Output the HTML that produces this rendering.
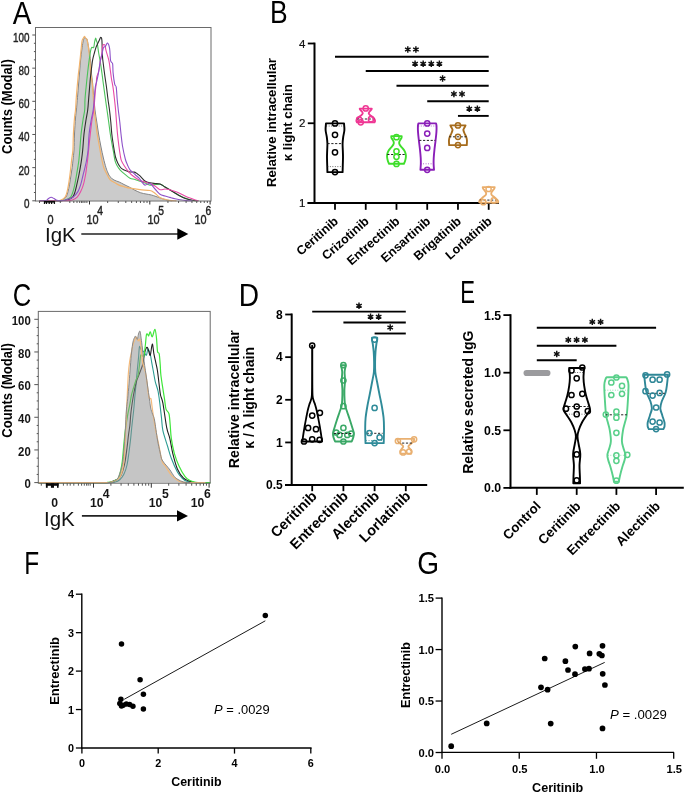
<!DOCTYPE html>
<html><head><meta charset="utf-8"><style>
html,body{margin:0;padding:0;background:#fff;width:685px;height:793px;overflow:hidden}
svg{display:block}
text{font-family:"Liberation Sans",sans-serif}
svg{will-change:transform}
</style></head><body>
<svg width="685" height="793" viewBox="0 0 685 793">
<rect width="685" height="793" fill="#fff"/>
<text x="0" y="0" font-size="31" fill="#000" transform="translate(12.80,24.00) scale(0.9,1)">A</text>
<path d="M55.00 200.80 C55.67 200.77 57.83 200.73 59.00 200.60 C60.17 200.47 60.83 200.57 62.00 200.00 C63.17 199.43 65.00 198.60 66.00 197.20 C67.00 195.80 67.42 193.68 68.00 191.60 C68.58 189.52 69.00 187.47 69.50 184.70 C70.00 181.93 70.55 177.88 71.00 175.00 C71.45 172.12 71.87 169.90 72.20 167.40 C72.53 164.90 72.70 162.90 73.00 160.00 C73.30 157.10 73.75 154.33 74.00 150.00 C74.25 145.67 74.25 139.33 74.50 134.00 C74.75 128.67 75.18 122.00 75.50 118.00 C75.82 114.00 76.07 113.43 76.40 110.00 C76.73 106.57 77.13 101.73 77.50 97.40 C77.87 93.07 78.25 88.23 78.60 84.00 C78.95 79.77 79.27 76.00 79.60 72.00 C79.93 68.00 80.23 63.67 80.60 60.00 C80.97 56.33 81.40 53.00 81.80 50.00 C82.20 47.00 82.63 43.92 83.00 42.00 C83.37 40.08 83.67 39.27 84.00 38.50 C84.33 37.73 84.67 37.35 85.00 37.40 C85.33 37.45 85.65 38.47 86.00 38.80 C86.35 39.13 86.72 38.28 87.10 39.40 C87.48 40.52 87.90 43.23 88.30 45.50 C88.70 47.77 89.12 50.42 89.50 53.00 C89.88 55.58 90.28 57.67 90.60 61.00 C90.92 64.33 91.07 69.33 91.40 73.00 C91.73 76.67 92.23 79.27 92.60 83.00 C92.97 86.73 93.20 90.90 93.60 95.40 C94.00 99.90 94.47 105.57 95.00 110.00 C95.53 114.43 96.20 118.00 96.80 122.00 C97.40 126.00 97.90 129.83 98.60 134.00 C99.30 138.17 100.20 143.00 101.00 147.00 C101.80 151.00 102.58 154.60 103.40 158.00 C104.22 161.40 105.13 164.90 105.90 167.40 C106.67 169.90 107.32 171.45 108.00 173.00 C108.68 174.55 109.00 175.53 110.00 176.70 C111.00 177.87 112.47 179.12 114.00 180.00 C115.53 180.88 117.53 181.25 119.20 182.00 C120.87 182.75 122.22 183.60 124.00 184.50 C125.78 185.40 128.07 186.43 129.90 187.40 C131.73 188.37 133.20 189.40 135.00 190.30 C136.80 191.20 138.87 192.18 140.70 192.80 C142.53 193.42 144.22 193.63 146.00 194.00 C147.78 194.37 149.73 194.58 151.40 195.00 C153.07 195.42 154.47 195.98 156.00 196.50 C157.53 197.02 158.93 197.55 160.60 198.10 C162.27 198.65 164.22 199.35 166.00 199.80 C167.78 200.25 170.42 200.63 171.30 200.80 L171.3 200.8 L55 200.8 Z" fill="#cbcbcb" stroke="none"/>
<path d="M55.00 200.80 C55.67 200.77 57.83 200.73 59.00 200.60 C60.17 200.47 60.83 200.57 62.00 200.00 C63.17 199.43 65.00 198.60 66.00 197.20 C67.00 195.80 67.42 193.68 68.00 191.60 C68.58 189.52 69.00 187.47 69.50 184.70 C70.00 181.93 70.55 177.88 71.00 175.00 C71.45 172.12 71.87 169.90 72.20 167.40 C72.53 164.90 72.70 162.90 73.00 160.00 C73.30 157.10 73.75 154.33 74.00 150.00 C74.25 145.67 74.25 139.33 74.50 134.00 C74.75 128.67 75.18 122.00 75.50 118.00 C75.82 114.00 76.07 113.43 76.40 110.00 C76.73 106.57 77.13 101.73 77.50 97.40 C77.87 93.07 78.25 88.23 78.60 84.00 C78.95 79.77 79.27 76.00 79.60 72.00 C79.93 68.00 80.23 63.67 80.60 60.00 C80.97 56.33 81.40 53.00 81.80 50.00 C82.20 47.00 82.63 43.92 83.00 42.00 C83.37 40.08 83.67 39.27 84.00 38.50 C84.33 37.73 84.67 37.35 85.00 37.40 C85.33 37.45 85.65 38.47 86.00 38.80 C86.35 39.13 86.72 38.28 87.10 39.40 C87.48 40.52 87.90 43.23 88.30 45.50 C88.70 47.77 89.12 50.42 89.50 53.00 C89.88 55.58 90.28 57.67 90.60 61.00 C90.92 64.33 91.07 69.33 91.40 73.00 C91.73 76.67 92.23 79.27 92.60 83.00 C92.97 86.73 93.20 90.90 93.60 95.40 C94.00 99.90 94.47 105.57 95.00 110.00 C95.53 114.43 96.20 118.00 96.80 122.00 C97.40 126.00 97.90 129.83 98.60 134.00 C99.30 138.17 100.20 143.00 101.00 147.00 C101.80 151.00 102.58 154.60 103.40 158.00 C104.22 161.40 105.13 164.90 105.90 167.40 C106.67 169.90 107.32 171.45 108.00 173.00 C108.68 174.55 109.00 175.53 110.00 176.70 C111.00 177.87 112.47 179.12 114.00 180.00 C115.53 180.88 117.53 181.25 119.20 182.00 C120.87 182.75 122.22 183.60 124.00 184.50 C125.78 185.40 128.07 186.43 129.90 187.40 C131.73 188.37 133.20 189.40 135.00 190.30 C136.80 191.20 138.87 192.18 140.70 192.80 C142.53 193.42 144.22 193.63 146.00 194.00 C147.78 194.37 149.73 194.58 151.40 195.00 C153.07 195.42 154.47 195.98 156.00 196.50 C157.53 197.02 158.93 197.55 160.60 198.10 C162.27 198.65 164.22 199.35 166.00 199.80 C167.78 200.25 170.42 200.63 171.30 200.80" fill="none" stroke="#858585" stroke-width="1.0" stroke-linejoin="round" stroke-linecap="round"/>
<path d="M40.00 200.80 C41.67 200.80 47.33 200.80 50.00 200.80 C52.67 200.80 54.13 200.93 56.00 200.80 C57.87 200.67 59.68 200.60 61.20 200.00 C62.72 199.40 64.12 198.60 65.10 197.20 C66.08 195.80 66.53 193.68 67.10 191.60 C67.67 189.52 68.03 187.47 68.50 184.70 C68.97 181.93 69.52 177.88 69.90 175.00 C70.28 172.12 70.52 169.90 70.80 167.40 C71.08 164.90 71.25 162.90 71.60 160.00 C71.95 157.10 72.60 154.33 72.90 150.00 C73.20 145.67 73.13 139.33 73.40 134.00 C73.67 128.67 74.15 122.00 74.50 118.00 C74.85 114.00 75.20 113.43 75.50 110.00 C75.80 106.57 75.98 101.70 76.30 97.40 C76.62 93.10 77.05 88.12 77.40 84.20 C77.75 80.28 78.07 76.97 78.40 73.90 C78.73 70.83 78.97 69.72 79.40 65.80 C79.83 61.88 80.57 54.50 81.00 50.40 C81.43 46.30 81.60 43.27 82.00 41.20 C82.40 39.13 82.98 38.82 83.40 38.00 C83.82 37.18 84.15 36.30 84.50 36.30 C84.85 36.30 85.12 37.52 85.50 38.00 C85.88 38.48 86.37 37.98 86.80 39.20 C87.23 40.42 87.72 43.08 88.10 45.30 C88.48 47.52 88.80 49.93 89.10 52.50 C89.40 55.07 89.63 57.30 89.90 60.70 C90.17 64.10 90.32 69.17 90.70 72.90 C91.08 76.63 91.78 79.35 92.20 83.10 C92.62 86.85 92.87 90.92 93.20 95.40 C93.53 99.88 93.78 105.57 94.20 110.00 C94.62 114.43 95.20 118.00 95.70 122.00 C96.20 126.00 96.57 129.83 97.20 134.00 C97.83 138.17 98.78 143.00 99.50 147.00 C100.22 151.00 100.80 154.60 101.50 158.00 C102.20 161.40 102.95 164.98 103.70 167.40 C104.45 169.82 104.95 170.45 106.00 172.50 C107.05 174.55 108.58 178.03 110.00 179.70 C111.42 181.37 113.00 181.60 114.50 182.50 C116.00 183.40 117.33 184.38 119.00 185.10 C120.67 185.82 122.67 186.28 124.50 186.80 C126.33 187.32 127.42 187.72 130.00 188.20 C132.58 188.68 136.68 189.32 140.00 189.70 C143.32 190.08 147.57 190.03 149.90 190.50 C152.23 190.97 152.35 191.35 154.00 192.50 C155.65 193.65 157.97 196.27 159.80 197.40 C161.63 198.53 163.33 198.80 165.00 199.30 C166.67 199.80 167.97 200.15 169.80 200.40 C171.63 200.65 174.97 200.73 176.00 200.80" fill="none" stroke="#f2b46e" stroke-width="1.2" stroke-linejoin="round" stroke-linecap="round"/>
<path d="M40.00 200.80 C43.00 200.80 54.33 200.85 58.00 200.80 C61.67 200.75 60.77 200.63 62.00 200.50 C63.23 200.37 63.97 200.55 65.40 200.00 C66.83 199.45 69.33 198.60 70.60 197.20 C71.87 195.80 72.30 193.68 73.00 191.60 C73.70 189.52 74.22 187.47 74.80 184.70 C75.38 181.93 76.00 177.88 76.50 175.00 C77.00 172.12 77.40 169.90 77.80 167.40 C78.20 164.90 78.57 162.90 78.90 160.00 C79.23 157.10 79.43 154.33 79.80 150.00 C80.17 145.67 80.57 139.00 81.10 134.00 C81.63 129.00 82.40 124.00 83.00 120.00 C83.60 116.00 84.37 113.42 84.70 110.00 C85.03 106.58 84.77 103.30 85.00 99.50 C85.23 95.70 85.67 91.63 86.10 87.20 C86.53 82.77 87.10 77.32 87.60 72.90 C88.10 68.48 88.58 64.45 89.10 60.70 C89.62 56.95 90.27 52.62 90.70 50.40 C91.13 48.18 91.20 47.90 91.70 47.40 C92.20 46.90 93.22 48.30 93.70 47.40 C94.18 46.50 94.28 43.53 94.60 42.00 C94.92 40.47 95.28 38.37 95.60 38.20 C95.92 38.03 96.22 40.15 96.50 41.00 C96.78 41.85 96.95 41.38 97.30 43.30 C97.65 45.22 98.08 49.27 98.60 52.50 C99.12 55.73 99.85 59.30 100.40 62.70 C100.95 66.10 101.40 69.32 101.90 72.90 C102.40 76.48 102.80 79.77 103.40 84.20 C104.00 88.63 104.90 95.20 105.50 99.50 C106.10 103.80 106.47 106.25 107.00 110.00 C107.53 113.75 108.15 118.00 108.70 122.00 C109.25 126.00 109.75 130.33 110.30 134.00 C110.85 137.67 111.47 141.00 112.00 144.00 C112.53 147.00 113.00 149.23 113.50 152.00 C114.00 154.77 114.42 158.35 115.00 160.60 C115.58 162.85 116.17 163.97 117.00 165.50 C117.83 167.03 118.67 168.32 120.00 169.80 C121.33 171.28 123.33 173.00 125.00 174.40 C126.67 175.80 128.33 177.35 130.00 178.20 C131.67 179.05 133.33 178.98 135.00 179.50 C136.67 180.02 138.33 180.72 140.00 181.30 C141.67 181.88 143.33 182.37 145.00 183.00 C146.67 183.63 148.33 184.85 150.00 185.10 C151.67 185.35 153.23 184.63 155.00 184.50 C156.77 184.37 158.93 183.88 160.60 184.30 C162.27 184.72 163.43 186.10 165.00 187.00 C166.57 187.90 168.33 188.70 170.00 189.70 C171.67 190.70 173.33 191.98 175.00 193.00 C176.67 194.02 178.33 194.97 180.00 195.80 C181.67 196.63 183.33 197.35 185.00 198.00 C186.67 198.65 188.17 199.23 190.00 199.70 C191.83 200.17 195.00 200.62 196.00 200.80" fill="none" stroke="#4cc25a" stroke-width="1.1" stroke-linejoin="round" stroke-linecap="round"/>
<path d="M40.00 200.80 C43.00 200.80 54.17 200.85 58.00 200.80 C61.83 200.75 61.42 200.63 63.00 200.50 C64.58 200.37 65.88 200.55 67.50 200.00 C69.12 199.45 71.43 198.60 72.70 197.20 C73.97 195.80 74.42 193.68 75.10 191.60 C75.78 189.52 76.17 187.47 76.80 184.70 C77.43 181.93 78.32 177.88 78.90 175.00 C79.48 172.12 79.87 169.90 80.30 167.40 C80.73 164.90 81.10 162.90 81.50 160.00 C81.90 157.10 82.28 154.33 82.70 150.00 C83.12 145.67 83.45 139.00 84.00 134.00 C84.55 129.00 85.38 124.00 86.00 120.00 C86.62 116.00 87.27 113.42 87.70 110.00 C88.13 106.58 88.20 104.32 88.60 99.50 C89.00 94.68 89.67 85.87 90.10 81.10 C90.53 76.33 90.77 74.48 91.20 70.90 C91.63 67.32 92.15 62.67 92.70 59.60 C93.25 56.53 93.95 54.53 94.50 52.50 C95.05 50.47 95.50 48.82 96.00 47.40 C96.50 45.98 96.95 45.20 97.50 44.00 C98.05 42.80 98.77 41.30 99.30 40.20 C99.83 39.10 100.27 37.40 100.70 37.40 C101.13 37.40 101.62 37.18 101.90 40.20 C102.18 43.22 102.15 51.42 102.40 55.50 C102.65 59.58 102.97 61.12 103.40 64.70 C103.83 68.28 104.48 73.25 105.00 77.00 C105.52 80.75 106.00 83.45 106.50 87.20 C107.00 90.95 107.50 95.70 108.00 99.50 C108.50 103.30 109.03 106.25 109.50 110.00 C109.97 113.75 110.42 118.00 110.80 122.00 C111.18 126.00 111.35 130.00 111.80 134.00 C112.25 138.00 112.88 142.17 113.50 146.00 C114.12 149.83 114.75 154.08 115.50 157.00 C116.25 159.92 117.08 161.67 118.00 163.50 C118.92 165.33 120.00 166.92 121.00 168.00 C122.00 169.08 123.00 169.50 124.00 170.00 C125.00 170.50 126.00 170.67 127.00 171.00 C128.00 171.33 128.75 171.82 130.00 172.00 C131.25 172.18 133.25 171.77 134.50 172.10 C135.75 172.43 136.58 173.37 137.50 174.00 C138.42 174.63 138.70 174.68 140.00 175.90 C141.30 177.12 143.63 180.15 145.30 181.30 C146.97 182.45 148.38 182.43 150.00 182.80 C151.62 183.17 153.33 183.30 155.00 183.50 C156.67 183.70 158.33 183.42 160.00 184.00 C161.67 184.58 163.33 186.00 165.00 187.00 C166.67 188.00 168.33 189.00 170.00 190.00 C171.67 191.00 173.33 192.00 175.00 193.00 C176.67 194.00 178.17 195.03 180.00 196.00 C181.83 196.97 184.00 198.08 186.00 198.80 C188.00 199.52 190.00 199.97 192.00 200.30 C194.00 200.63 197.00 200.72 198.00 200.80" fill="none" stroke="#2e2e2e" stroke-width="1.1" stroke-linejoin="round" stroke-linecap="round"/>
<path d="M40.00 200.80 C43.33 200.80 55.67 200.82 60.00 200.80 C64.33 200.78 63.95 200.83 66.00 200.70 C68.05 200.57 70.43 200.58 72.30 200.00 C74.17 199.42 75.80 198.60 77.20 197.20 C78.60 195.80 79.67 193.68 80.70 191.60 C81.73 189.52 82.60 187.47 83.40 184.70 C84.20 181.93 84.97 177.88 85.50 175.00 C86.03 172.12 86.25 169.90 86.60 167.40 C86.95 164.90 87.27 162.90 87.60 160.00 C87.93 157.10 88.15 154.33 88.60 150.00 C89.05 145.67 89.73 139.00 90.30 134.00 C90.87 129.00 91.42 124.00 92.00 120.00 C92.58 116.00 93.35 113.42 93.80 110.00 C94.25 106.58 94.45 102.62 94.70 99.50 C94.95 96.38 95.03 94.03 95.30 91.30 C95.57 88.57 96.05 85.48 96.30 83.10 C96.55 80.72 96.38 79.03 96.80 77.00 C97.22 74.97 98.20 73.62 98.80 70.90 C99.40 68.18 99.88 63.60 100.40 60.70 C100.92 57.80 101.48 56.07 101.90 53.50 C102.32 50.93 102.38 46.67 102.90 45.30 C103.42 43.93 104.48 44.45 105.00 45.30 C105.52 46.15 105.35 47.83 106.00 50.40 C106.65 52.97 108.17 57.28 108.90 60.70 C109.63 64.12 109.97 67.85 110.40 70.90 C110.83 73.95 111.07 76.28 111.50 79.00 C111.93 81.72 112.50 83.78 113.00 87.20 C113.50 90.62 114.07 95.70 114.50 99.50 C114.93 103.30 115.27 106.25 115.60 110.00 C115.93 113.75 116.18 118.00 116.50 122.00 C116.82 126.00 117.10 130.00 117.50 134.00 C117.90 138.00 118.45 142.50 118.90 146.00 C119.35 149.50 119.78 152.57 120.20 155.00 C120.62 157.43 120.70 158.77 121.40 160.60 C122.10 162.43 123.25 164.22 124.40 166.00 C125.55 167.78 126.87 169.63 128.30 171.30 C129.73 172.97 131.05 174.47 133.00 176.00 C134.95 177.53 138.00 179.50 140.00 180.50 C142.00 181.50 143.33 181.48 145.00 182.00 C146.67 182.52 148.33 182.93 150.00 183.60 C151.67 184.27 153.33 184.98 155.00 186.00 C156.67 187.02 158.33 189.20 160.00 189.70 C161.67 190.20 163.33 189.00 165.00 189.00 C166.67 189.00 168.33 189.28 170.00 189.70 C171.67 190.12 173.33 190.87 175.00 191.50 C176.67 192.13 178.33 192.75 180.00 193.50 C181.67 194.25 183.33 195.23 185.00 196.00 C186.67 196.77 188.50 197.50 190.00 198.10 C191.50 198.70 192.67 199.15 194.00 199.60 C195.33 200.05 197.33 200.60 198.00 200.80" fill="none" stroke="#e84aa6" stroke-width="1.1" stroke-linejoin="round" stroke-linecap="round"/>
<path d="M40.00 200.80 C41.00 200.75 44.58 200.88 46.00 200.50 C47.42 200.12 47.63 199.03 48.50 198.50 C49.37 197.97 50.28 197.28 51.20 197.30 C52.12 197.32 53.03 198.08 54.00 198.60 C54.97 199.12 55.83 200.07 57.00 200.40 C58.17 200.73 59.60 200.67 61.00 200.60 C62.40 200.53 63.40 200.57 65.40 200.00 C67.40 199.43 70.92 198.60 73.00 197.20 C75.08 195.80 76.62 193.68 77.90 191.60 C79.18 189.52 79.83 187.47 80.70 184.70 C81.57 181.93 82.38 177.88 83.10 175.00 C83.82 172.12 84.42 169.90 85.00 167.40 C85.58 164.90 86.08 162.90 86.60 160.00 C87.12 157.10 87.68 154.33 88.10 150.00 C88.52 145.67 88.58 139.00 89.10 134.00 C89.62 129.00 90.52 124.00 91.20 120.00 C91.88 116.00 92.70 113.42 93.20 110.00 C93.70 106.58 93.85 103.30 94.20 99.50 C94.55 95.70 94.87 90.27 95.30 87.20 C95.73 84.13 96.30 83.32 96.80 81.10 C97.30 78.88 97.70 77.30 98.30 73.90 C98.90 70.50 99.80 63.93 100.40 60.70 C101.00 57.47 101.40 56.63 101.90 54.50 C102.40 52.37 102.80 49.27 103.40 47.90 C104.00 46.53 104.82 47.10 105.50 46.30 C106.18 45.50 106.82 42.75 107.50 43.10 C108.18 43.45 109.08 45.47 109.60 48.40 C110.12 51.33 110.10 58.15 110.60 60.70 C111.10 63.25 112.18 61.67 112.60 63.70 C113.02 65.73 112.75 69.48 113.10 72.90 C113.45 76.32 114.18 81.82 114.70 84.20 C115.22 86.58 115.78 84.65 116.20 87.20 C116.62 89.75 116.85 95.70 117.20 99.50 C117.55 103.30 117.87 106.25 118.30 110.00 C118.73 113.75 119.35 118.00 119.80 122.00 C120.25 126.00 120.55 130.00 121.00 134.00 C121.45 138.00 121.78 141.83 122.50 146.00 C123.22 150.17 124.47 155.83 125.30 159.00 C126.13 162.17 126.72 163.20 127.50 165.00 C128.28 166.80 128.75 168.22 130.00 169.80 C131.25 171.38 133.48 173.10 135.00 174.50 C136.52 175.90 137.93 176.95 139.10 178.20 C140.27 179.45 141.02 180.85 142.00 182.00 C142.98 183.15 143.67 184.83 145.00 185.10 C146.33 185.37 148.33 182.95 150.00 183.60 C151.67 184.25 153.33 187.22 155.00 189.00 C156.67 190.78 158.33 193.13 160.00 194.30 C161.67 195.47 163.33 195.48 165.00 196.00 C166.67 196.52 168.33 196.95 170.00 197.40 C171.67 197.85 173.33 198.32 175.00 198.70 C176.67 199.08 178.17 199.38 180.00 199.70 C181.83 200.02 184.00 200.42 186.00 200.60 C188.00 200.78 191.00 200.77 192.00 200.80" fill="none" stroke="#8e52c9" stroke-width="1.1" stroke-linejoin="round" stroke-linecap="round"/>
<rect x="35.5" y="27.5" width="175.5" height="173.5" fill="none" stroke="#6a6a6a" stroke-width="1"/>
<line x1="32.30" y1="200.80" x2="35.50" y2="200.80" stroke="#555" stroke-width="1" />
<line x1="33.90" y1="192.51" x2="35.50" y2="192.51" stroke="#555" stroke-width="1" />
<line x1="33.90" y1="184.22" x2="35.50" y2="184.22" stroke="#555" stroke-width="1" />
<line x1="33.90" y1="175.93" x2="35.50" y2="175.93" stroke="#555" stroke-width="1" />
<line x1="32.30" y1="167.64" x2="35.50" y2="167.64" stroke="#555" stroke-width="1" />
<line x1="33.90" y1="159.35" x2="35.50" y2="159.35" stroke="#555" stroke-width="1" />
<line x1="33.90" y1="151.06" x2="35.50" y2="151.06" stroke="#555" stroke-width="1" />
<line x1="33.90" y1="142.77" x2="35.50" y2="142.77" stroke="#555" stroke-width="1" />
<line x1="32.30" y1="134.48" x2="35.50" y2="134.48" stroke="#555" stroke-width="1" />
<line x1="33.90" y1="126.19" x2="35.50" y2="126.19" stroke="#555" stroke-width="1" />
<line x1="33.90" y1="117.90" x2="35.50" y2="117.90" stroke="#555" stroke-width="1" />
<line x1="33.90" y1="109.61" x2="35.50" y2="109.61" stroke="#555" stroke-width="1" />
<line x1="32.30" y1="101.32" x2="35.50" y2="101.32" stroke="#555" stroke-width="1" />
<line x1="33.90" y1="93.03" x2="35.50" y2="93.03" stroke="#555" stroke-width="1" />
<line x1="33.90" y1="84.74" x2="35.50" y2="84.74" stroke="#555" stroke-width="1" />
<line x1="33.90" y1="76.45" x2="35.50" y2="76.45" stroke="#555" stroke-width="1" />
<line x1="32.30" y1="68.16" x2="35.50" y2="68.16" stroke="#555" stroke-width="1" />
<line x1="33.90" y1="59.87" x2="35.50" y2="59.87" stroke="#555" stroke-width="1" />
<line x1="33.90" y1="51.58" x2="35.50" y2="51.58" stroke="#555" stroke-width="1" />
<line x1="33.90" y1="43.29" x2="35.50" y2="43.29" stroke="#555" stroke-width="1" />
<line x1="32.30" y1="35.00" x2="35.50" y2="35.00" stroke="#555" stroke-width="1" />
<text x="0" y="0" font-size="13" font-weight="normal" text-anchor="end" fill="#222" stroke="#222" stroke-width="0.4" transform="translate(29.40,207.80) scale(0.76,1)">0</text>
<text x="0" y="0" font-size="13" font-weight="normal" text-anchor="end" fill="#222" stroke="#222" stroke-width="0.4" transform="translate(29.40,174.64) scale(0.76,1)">20</text>
<text x="0" y="0" font-size="13" font-weight="normal" text-anchor="end" fill="#222" stroke="#222" stroke-width="0.4" transform="translate(29.40,141.48) scale(0.76,1)">40</text>
<text x="0" y="0" font-size="13" font-weight="normal" text-anchor="end" fill="#222" stroke="#222" stroke-width="0.4" transform="translate(29.40,108.32) scale(0.76,1)">60</text>
<text x="0" y="0" font-size="13" font-weight="normal" text-anchor="end" fill="#222" stroke="#222" stroke-width="0.4" transform="translate(29.40,75.16) scale(0.76,1)">80</text>
<text x="0" y="0" font-size="13" font-weight="normal" text-anchor="end" fill="#222" stroke="#222" stroke-width="0.4" transform="translate(29.40,42.00) scale(0.76,1)">100</text>
<line x1="89.50" y1="201.00" x2="89.50" y2="204.50" stroke="#333" stroke-width="1" />
<line x1="107.65" y1="201.00" x2="107.65" y2="203.00" stroke="#555" stroke-width="1" />
<line x1="118.27" y1="201.00" x2="118.27" y2="203.00" stroke="#555" stroke-width="1" />
<line x1="125.80" y1="201.00" x2="125.80" y2="203.00" stroke="#555" stroke-width="1" />
<line x1="131.65" y1="201.00" x2="131.65" y2="203.00" stroke="#555" stroke-width="1" />
<line x1="136.42" y1="201.00" x2="136.42" y2="203.00" stroke="#555" stroke-width="1" />
<line x1="140.46" y1="201.00" x2="140.46" y2="203.00" stroke="#555" stroke-width="1" />
<line x1="143.96" y1="201.00" x2="143.96" y2="203.00" stroke="#555" stroke-width="1" />
<line x1="147.04" y1="201.00" x2="147.04" y2="203.00" stroke="#555" stroke-width="1" />
<line x1="149.80" y1="201.00" x2="149.80" y2="204.50" stroke="#333" stroke-width="1" />
<line x1="167.95" y1="201.00" x2="167.95" y2="203.00" stroke="#555" stroke-width="1" />
<line x1="178.57" y1="201.00" x2="178.57" y2="203.00" stroke="#555" stroke-width="1" />
<line x1="186.10" y1="201.00" x2="186.10" y2="203.00" stroke="#555" stroke-width="1" />
<line x1="191.95" y1="201.00" x2="191.95" y2="203.00" stroke="#555" stroke-width="1" />
<line x1="196.72" y1="201.00" x2="196.72" y2="203.00" stroke="#555" stroke-width="1" />
<line x1="200.76" y1="201.00" x2="200.76" y2="203.00" stroke="#555" stroke-width="1" />
<line x1="204.26" y1="201.00" x2="204.26" y2="203.00" stroke="#555" stroke-width="1" />
<line x1="207.34" y1="201.00" x2="207.34" y2="203.00" stroke="#555" stroke-width="1" />
<line x1="210.10" y1="201.00" x2="210.10" y2="204.50" stroke="#333" stroke-width="1" />
<line x1="39.50" y1="201.00" x2="39.50" y2="203.00" stroke="#555" stroke-width="1" />
<line x1="60.30" y1="201.00" x2="60.30" y2="203.00" stroke="#555" stroke-width="1" />
<line x1="69.80" y1="201.00" x2="69.80" y2="203.00" stroke="#555" stroke-width="1" />
<line x1="73.80" y1="201.00" x2="73.80" y2="203.00" stroke="#555" stroke-width="1" />
<line x1="77.00" y1="201.00" x2="77.00" y2="203.00" stroke="#555" stroke-width="1" />
<line x1="79.70" y1="201.00" x2="79.70" y2="203.00" stroke="#555" stroke-width="1" />
<line x1="81.60" y1="201.00" x2="81.60" y2="203.00" stroke="#555" stroke-width="1" />
<line x1="83.00" y1="201.00" x2="83.00" y2="203.00" stroke="#555" stroke-width="1" />
<line x1="84.90" y1="201.00" x2="84.90" y2="203.00" stroke="#555" stroke-width="1" />
<line x1="86.90" y1="201.00" x2="86.90" y2="203.00" stroke="#555" stroke-width="1" />
<line x1="44.50" y1="201.00" x2="44.50" y2="204.00" stroke="#111" stroke-width="1.3" />
<line x1="46.50" y1="201.00" x2="46.50" y2="204.00" stroke="#111" stroke-width="1.3" />
<line x1="49.20" y1="201.00" x2="49.20" y2="204.00" stroke="#111" stroke-width="1.3" />
<line x1="51.60" y1="201.00" x2="51.60" y2="204.00" stroke="#111" stroke-width="1.3" />
<line x1="54.40" y1="201.00" x2="54.40" y2="204.00" stroke="#111" stroke-width="1.3" />
<rect x="44" y="201" width="11" height="1.5999999999999943" fill="#0a0a0a"/>
<text x="0" y="0" font-size="13" font-weight="normal" text-anchor="middle" fill="#222" stroke="#222" stroke-width="0.4" transform="translate(50.50,223.60) scale(0.84,1)">0</text>
<text x="0" y="0" font-size="13" font-weight="normal" text-anchor="start" fill="#222" stroke="#222" stroke-width="0.4" transform="translate(86.40,223.60) scale(0.84,1)">10</text>
<text x="0" y="0" font-size="12.3" font-weight="normal" text-anchor="start" fill="#222" stroke="#222" stroke-width="0.4" transform="translate(97.30,215.20) scale(0.84,1)">4</text>
<text x="0" y="0" font-size="13" font-weight="normal" text-anchor="start" fill="#222" stroke="#222" stroke-width="0.4" transform="translate(147.40,223.60) scale(0.84,1)">10</text>
<text x="0" y="0" font-size="12.3" font-weight="normal" text-anchor="start" fill="#222" stroke="#222" stroke-width="0.4" transform="translate(158.30,215.20) scale(0.84,1)">5</text>
<text x="0" y="0" font-size="13" font-weight="normal" text-anchor="start" fill="#222" stroke="#222" stroke-width="0.4" transform="translate(194.50,223.60) scale(0.84,1)">10</text>
<text x="0" y="0" font-size="12.3" font-weight="normal" text-anchor="start" fill="#222" stroke="#222" stroke-width="0.4" transform="translate(205.50,215.20) scale(0.84,1)">6</text>
<text x="45.00" y="242.30" font-size="20.5" font-weight="normal" text-anchor="start" fill="#111"  style="">IgK</text>
<line x1="81.30" y1="234.00" x2="179.30" y2="234.00" stroke="#222" stroke-width="1.6" />
<path d="M177.30 228.30 L188.30 234.00 L177.30 239.70 Z" fill="#000"/>
<text x="0" y="0" font-size="14" font-weight="bold" text-anchor="middle" fill="#000" transform="translate(11.70,106.60) rotate(-90) scale(0.93,1)">Counts (Modal)</text>
<text x="0" y="0" font-size="31" fill="#000" transform="translate(269.90,22.80) scale(0.854,1)">B</text>
<line x1="314.50" y1="42.60" x2="314.50" y2="204.00" stroke="#000" stroke-width="2" />
<line x1="307.50" y1="203.00" x2="498.80" y2="203.00" stroke="#000" stroke-width="2" />
<line x1="307.80" y1="43.50" x2="314.50" y2="43.50" stroke="#000" stroke-width="1.8" />
<text x="305.50" y="47.60" font-size="11.5" font-weight="normal" text-anchor="end" fill="#111" stroke="#111" stroke-width="0.2" style="">4</text>
<line x1="307.80" y1="123.25" x2="314.50" y2="123.25" stroke="#000" stroke-width="1.8" />
<text x="305.50" y="127.35" font-size="11.5" font-weight="normal" text-anchor="end" fill="#111" stroke="#111" stroke-width="0.2" style="">2</text>
<line x1="307.80" y1="203.00" x2="314.50" y2="203.00" stroke="#000" stroke-width="1.8" />
<text x="305.50" y="207.10" font-size="11.5" font-weight="normal" text-anchor="end" fill="#111" stroke="#111" stroke-width="0.2" style="">1</text>
<line x1="335.00" y1="203.00" x2="335.00" y2="209.80" stroke="#000" stroke-width="1.8" />
<line x1="365.74" y1="203.00" x2="365.74" y2="209.80" stroke="#000" stroke-width="1.8" />
<line x1="396.48" y1="203.00" x2="396.48" y2="209.80" stroke="#000" stroke-width="1.8" />
<line x1="427.22" y1="203.00" x2="427.22" y2="209.80" stroke="#000" stroke-width="1.8" />
<line x1="457.96" y1="203.00" x2="457.96" y2="209.80" stroke="#000" stroke-width="1.8" />
<line x1="488.70" y1="203.00" x2="488.70" y2="209.80" stroke="#000" stroke-width="1.8" />
<text x="0" y="0" font-size="13.2" font-weight="bold" text-anchor="middle" transform="translate(276.0,122.6) rotate(-90)">Relative intracellular</text>
<text x="0" y="0" font-size="13.2" font-weight="bold" text-anchor="middle" transform="translate(292.4,122.7) rotate(-90)">κ light chain</text>
<text x="0" y="0" font-size="12.5" font-weight="bold" text-anchor="end" fill="#000" transform="translate(339.00,222.40) rotate(-41.5)">Ceritinib</text>
<text x="0" y="0" font-size="12.5" font-weight="bold" text-anchor="end" fill="#000" transform="translate(369.74,222.40) rotate(-41.5)">Crizotinib</text>
<text x="0" y="0" font-size="12.5" font-weight="bold" text-anchor="end" fill="#000" transform="translate(400.48,222.40) rotate(-41.5)">Entrectinib</text>
<text x="0" y="0" font-size="12.5" font-weight="bold" text-anchor="end" fill="#000" transform="translate(431.22,222.40) rotate(-41.5)">Ensartinib</text>
<text x="0" y="0" font-size="12.5" font-weight="bold" text-anchor="end" fill="#000" transform="translate(461.96,222.40) rotate(-41.5)">Brigatinib</text>
<text x="0" y="0" font-size="12.5" font-weight="bold" text-anchor="end" fill="#000" transform="translate(492.70,222.40) rotate(-41.5)">Lorlatinib</text>
<path d="M344.00 123.40 C344.07 124.50 344.53 127.73 344.40 130.00 C344.27 132.27 343.50 134.77 343.20 137.00 C342.90 139.23 342.67 141.23 342.60 143.40 C342.53 145.57 342.73 147.73 342.80 150.00 C342.87 152.27 343.00 154.50 343.00 157.00 C343.00 159.50 342.87 162.48 342.80 165.00 C342.73 167.52 342.63 170.92 342.60 172.10 L327.40 172.10 C327.37 170.92 327.27 167.52 327.20 165.00 C327.13 162.48 327.00 159.50 327.00 157.00 C327.00 154.50 327.13 152.27 327.20 150.00 C327.27 147.73 327.47 145.57 327.40 143.40 C327.33 141.23 327.10 139.23 326.80 137.00 C326.50 134.77 325.73 132.27 325.60 130.00 C325.47 127.73 325.93 124.50 326.00 123.40 Z" fill="#fff" stroke="#000" stroke-width="1.9" stroke-linejoin="round"/>
<line x1="326.20" y1="126.00" x2="343.80" y2="126.00" stroke="#222" stroke-width="0.9" stroke-dasharray="0.9 1.6" opacity="0.8"/>
<line x1="327.40" y1="166.60" x2="342.60" y2="166.60" stroke="#222" stroke-width="0.9" stroke-dasharray="0.9 1.6" opacity="0.8"/>
<line x1="327.50" y1="143.60" x2="342.50" y2="143.60" stroke="#222" stroke-width="1" stroke-dasharray="2.2 1.6"/>
<circle cx="335.00" cy="123.40" r="2.6" fill="none" stroke="#000" stroke-width="1.5"/>
<circle cx="335.00" cy="134.80" r="2.6" fill="none" stroke="#000" stroke-width="1.5"/>
<circle cx="335.00" cy="152.30" r="2.6" fill="none" stroke="#000" stroke-width="1.5"/>
<circle cx="335.00" cy="172.10" r="2.6" fill="none" stroke="#000" stroke-width="1.5"/>
<path d="M371.74 108.60 C371.67 108.80 371.67 109.35 371.34 109.80 C371.01 110.25 370.17 110.70 369.74 111.30 C369.31 111.90 368.64 112.72 368.74 113.40 C368.84 114.08 369.61 114.73 370.34 115.40 C371.07 116.07 372.41 116.70 373.14 117.40 C373.87 118.10 374.42 118.97 374.74 119.60 C375.06 120.23 375.07 120.75 375.04 121.20 C375.01 121.65 374.62 122.12 374.54 122.30 L356.94 122.30 C356.86 122.12 356.47 121.65 356.44 121.20 C356.41 120.75 356.42 120.23 356.74 119.60 C357.06 118.97 357.61 118.10 358.34 117.40 C359.07 116.70 360.41 116.07 361.14 115.40 C361.87 114.73 362.64 114.08 362.74 113.40 C362.84 112.72 362.17 111.90 361.74 111.30 C361.31 110.70 360.47 110.25 360.14 109.80 C359.81 109.35 359.81 108.80 359.74 108.60 Z" fill="#fff" stroke="#ef3794" stroke-width="1.9" stroke-linejoin="round"/>
<line x1="357.24" y1="119.00" x2="374.24" y2="119.00" stroke="#222" stroke-width="1" stroke-dasharray="2.2 1.6"/>
<circle cx="365.74" cy="108.40" r="2.6" fill="none" stroke="#ef3794" stroke-width="1.5"/>
<circle cx="370.94" cy="119.20" r="2.6" fill="none" stroke="#ef3794" stroke-width="1.5"/>
<circle cx="359.14" cy="119.60" r="2.6" fill="none" stroke="#ef3794" stroke-width="1.5"/>
<circle cx="360.74" cy="122.30" r="2.6" fill="none" stroke="#ef3794" stroke-width="1.5"/>
<path d="M401.68 136.10 C401.65 136.38 401.71 137.18 401.48 137.80 C401.25 138.42 400.66 139.05 400.28 139.80 C399.90 140.55 399.28 141.47 399.18 142.30 C399.08 143.13 399.23 143.93 399.68 144.80 C400.13 145.67 401.11 146.55 401.88 147.50 C402.65 148.45 403.65 149.42 404.28 150.50 C404.91 151.58 405.41 152.92 405.68 154.00 C405.95 155.08 405.98 155.83 405.88 157.00 C405.78 158.17 405.41 159.87 405.08 161.00 C404.75 162.13 404.08 163.33 403.88 163.80 L389.08 163.80 C388.88 163.33 388.21 162.13 387.88 161.00 C387.55 159.87 387.18 158.17 387.08 157.00 C386.98 155.83 387.01 155.08 387.28 154.00 C387.55 152.92 388.05 151.58 388.68 150.50 C389.31 149.42 390.31 148.45 391.08 147.50 C391.85 146.55 392.83 145.67 393.28 144.80 C393.73 143.93 393.88 143.13 393.78 142.30 C393.68 141.47 393.06 140.55 392.68 139.80 C392.30 139.05 391.71 138.42 391.48 137.80 C391.25 137.18 391.31 136.38 391.28 136.10 Z" fill="#fff" stroke="#3ede2a" stroke-width="1.9" stroke-linejoin="round"/>
<line x1="387.28" y1="154.50" x2="405.68" y2="154.50" stroke="#222" stroke-width="1" stroke-dasharray="2.2 1.6"/>
<circle cx="396.48" cy="137.20" r="2.6" fill="none" stroke="#3ede2a" stroke-width="1.5"/>
<circle cx="396.48" cy="151.30" r="2.6" fill="none" stroke="#3ede2a" stroke-width="1.5"/>
<circle cx="396.48" cy="156.80" r="2.6" fill="none" stroke="#3ede2a" stroke-width="1.5"/>
<circle cx="396.48" cy="163.90" r="2.6" fill="none" stroke="#3ede2a" stroke-width="1.5"/>
<path d="M436.02 123.40 C436.10 123.83 436.45 124.57 436.52 126.00 C436.59 127.43 436.57 129.67 436.42 132.00 C436.27 134.33 435.95 137.00 435.62 140.00 C435.29 143.00 434.74 147.00 434.42 150.00 C434.10 153.00 433.85 155.67 433.72 158.00 C433.59 160.33 433.57 162.03 433.62 164.00 C433.67 165.97 433.95 168.83 434.02 169.80 L420.42 169.80 C420.49 168.83 420.77 165.97 420.82 164.00 C420.87 162.03 420.85 160.33 420.72 158.00 C420.59 155.67 420.34 153.00 420.02 150.00 C419.70 147.00 419.15 143.00 418.82 140.00 C418.49 137.00 418.17 134.33 418.02 132.00 C417.87 129.67 417.85 127.43 417.92 126.00 C417.99 124.57 418.34 123.83 418.42 123.40 Z" fill="#fff" stroke="#8a1fb8" stroke-width="1.9" stroke-linejoin="round"/>
<line x1="418.32" y1="126.00" x2="436.12" y2="126.00" stroke="#8a1fb8" stroke-width="0.9" stroke-dasharray="0.9 1.6" opacity="0.8"/>
<line x1="420.62" y1="163.80" x2="433.82" y2="163.80" stroke="#8a1fb8" stroke-width="0.9" stroke-dasharray="0.9 1.6" opacity="0.8"/>
<line x1="419.22" y1="140.40" x2="435.22" y2="140.40" stroke="#222" stroke-width="1" stroke-dasharray="2.2 1.6"/>
<circle cx="427.22" cy="123.40" r="2.6" fill="none" stroke="#8a1fb8" stroke-width="1.5"/>
<circle cx="427.22" cy="133.60" r="2.6" fill="none" stroke="#8a1fb8" stroke-width="1.5"/>
<circle cx="427.22" cy="147.90" r="2.6" fill="none" stroke="#8a1fb8" stroke-width="1.5"/>
<circle cx="427.22" cy="169.80" r="2.6" fill="none" stroke="#8a1fb8" stroke-width="1.5"/>
<path d="M465.56 125.40 C465.38 125.75 464.83 126.77 464.46 127.50 C464.09 128.23 463.38 128.88 463.36 129.80 C463.34 130.72 463.89 131.83 464.36 133.00 C464.83 134.17 465.73 135.60 466.16 136.80 C466.59 138.00 466.86 138.82 466.96 140.20 C467.06 141.58 466.79 144.28 466.76 145.10 L449.16 145.10 C449.13 144.28 448.86 141.58 448.96 140.20 C449.06 138.82 449.33 138.00 449.76 136.80 C450.19 135.60 451.09 134.17 451.56 133.00 C452.03 131.83 452.58 130.72 452.56 129.80 C452.54 128.88 451.83 128.23 451.46 127.50 C451.09 126.77 450.54 125.75 450.36 125.40 Z" fill="#fff" stroke="#a66c1d" stroke-width="1.9" stroke-linejoin="round"/>
<line x1="449.16" y1="136.80" x2="466.76" y2="136.80" stroke="#222" stroke-width="1" stroke-dasharray="2.2 1.6"/>
<circle cx="457.96" cy="125.40" r="2.6" fill="none" stroke="#a66c1d" stroke-width="1.5"/>
<circle cx="457.96" cy="136.80" r="2.6" fill="none" stroke="#a66c1d" stroke-width="1.5"/>
<circle cx="457.96" cy="145.10" r="2.6" fill="none" stroke="#a66c1d" stroke-width="1.5"/>
<path d="M494.70 187.10 C494.63 187.35 494.63 188.02 494.30 188.60 C493.97 189.18 493.20 189.87 492.70 190.60 C492.20 191.33 491.47 192.27 491.30 193.00 C491.13 193.73 491.13 194.25 491.70 195.00 C492.27 195.75 493.73 196.67 494.70 197.50 C495.67 198.33 496.92 199.28 497.50 200.00 C498.08 200.72 498.17 201.37 498.20 201.80 C498.23 202.23 497.78 202.47 497.70 202.60 L479.70 202.60 C479.62 202.47 479.17 202.23 479.20 201.80 C479.23 201.37 479.32 200.72 479.90 200.00 C480.48 199.28 481.73 198.33 482.70 197.50 C483.67 196.67 485.13 195.75 485.70 195.00 C486.27 194.25 486.27 193.73 486.10 193.00 C485.93 192.27 485.20 191.33 484.70 190.60 C484.20 189.87 483.43 189.18 483.10 188.60 C482.77 188.02 482.77 187.35 482.70 187.10 Z" fill="#fff" stroke="#eaae6c" stroke-width="1.9" stroke-linejoin="round"/>
<line x1="479.70" y1="200.10" x2="497.70" y2="200.10" stroke="#222" stroke-width="1" stroke-dasharray="2.2 1.6"/>
<circle cx="488.60" cy="189.00" r="2.6" fill="none" stroke="#eaae6c" stroke-width="1.5"/>
<circle cx="483.40" cy="202.20" r="2.6" fill="none" stroke="#eaae6c" stroke-width="1.5"/>
<circle cx="493.70" cy="200.40" r="2.6" fill="none" stroke="#eaae6c" stroke-width="1.5"/>
<line x1="335.00" y1="56.70" x2="488.70" y2="56.70" stroke="#000" stroke-width="1.9" />
<path d="M407.80 46.30 L407.80 52.70 M405.03 47.90 L410.57 51.10 M405.03 51.10 L410.57 47.90" stroke="#111" stroke-width="1.45" fill="none"/>
<circle cx="407.80" cy="49.50" r="1.1" fill="#111"/>
<path d="M415.90 46.30 L415.90 52.70 M413.13 47.90 L418.67 51.10 M413.13 51.10 L418.67 47.90" stroke="#111" stroke-width="1.45" fill="none"/>
<circle cx="415.90" cy="49.50" r="1.1" fill="#111"/>
<line x1="365.74" y1="71.00" x2="488.70" y2="71.00" stroke="#000" stroke-width="1.9" />
<path d="M415.07 60.60 L415.07 67.00 M412.30 62.20 L417.84 65.40 M412.30 65.40 L417.84 62.20" stroke="#111" stroke-width="1.45" fill="none"/>
<circle cx="415.07" cy="63.80" r="1.1" fill="#111"/>
<path d="M423.17 60.60 L423.17 67.00 M420.40 62.20 L425.94 65.40 M420.40 65.40 L425.94 62.20" stroke="#111" stroke-width="1.45" fill="none"/>
<circle cx="423.17" cy="63.80" r="1.1" fill="#111"/>
<path d="M431.27 60.60 L431.27 67.00 M428.50 62.20 L434.04 65.40 M428.50 65.40 L434.04 62.20" stroke="#111" stroke-width="1.45" fill="none"/>
<circle cx="431.27" cy="63.80" r="1.1" fill="#111"/>
<path d="M439.37 60.60 L439.37 67.00 M436.60 62.20 L442.14 65.40 M436.60 65.40 L442.14 62.20" stroke="#111" stroke-width="1.45" fill="none"/>
<circle cx="439.37" cy="63.80" r="1.1" fill="#111"/>
<line x1="396.48" y1="85.70" x2="488.70" y2="85.70" stroke="#000" stroke-width="1.9" />
<path d="M442.59 75.30 L442.59 81.70 M439.82 76.90 L445.36 80.10 M439.82 80.10 L445.36 76.90" stroke="#111" stroke-width="1.45" fill="none"/>
<circle cx="442.59" cy="78.50" r="1.1" fill="#111"/>
<line x1="427.22" y1="101.20" x2="488.70" y2="101.20" stroke="#000" stroke-width="1.9" />
<path d="M453.91 90.80 L453.91 97.20 M451.14 92.40 L456.68 95.60 M451.14 95.60 L456.68 92.40" stroke="#111" stroke-width="1.45" fill="none"/>
<circle cx="453.91" cy="94.00" r="1.1" fill="#111"/>
<path d="M462.01 90.80 L462.01 97.20 M459.24 92.40 L464.78 95.60 M459.24 95.60 L464.78 92.40" stroke="#111" stroke-width="1.45" fill="none"/>
<circle cx="462.01" cy="94.00" r="1.1" fill="#111"/>
<line x1="457.96" y1="115.90" x2="488.70" y2="115.90" stroke="#000" stroke-width="1.9" />
<path d="M469.28 105.50 L469.28 111.90 M466.51 107.10 L472.05 110.30 M466.51 110.30 L472.05 107.10" stroke="#111" stroke-width="1.45" fill="none"/>
<circle cx="469.28" cy="108.70" r="1.1" fill="#111"/>
<path d="M477.38 105.50 L477.38 111.90 M474.61 107.10 L480.15 110.30 M474.61 110.30 L480.15 107.10" stroke="#111" stroke-width="1.45" fill="none"/>
<circle cx="477.38" cy="108.70" r="1.1" fill="#111"/>
<text x="0" y="0" font-size="31" fill="#000" transform="translate(12.70,306.40) scale(0.826,1)">C</text>
<path d="M39.00 482.60 C50.00 482.60 92.33 482.70 105.00 482.60 C117.67 482.50 112.50 482.52 115.00 482.00 C117.50 481.48 118.50 480.83 120.00 479.50 C121.50 478.17 122.83 476.42 124.00 474.00 C125.17 471.58 126.17 468.67 127.00 465.00 C127.83 461.33 128.42 456.17 129.00 452.00 C129.58 447.83 130.00 444.50 130.50 440.00 C131.00 435.50 131.47 430.00 132.00 425.00 C132.53 420.00 133.20 415.00 133.70 410.00 C134.20 405.00 134.58 399.50 135.00 395.00 C135.42 390.50 135.90 386.33 136.20 383.00 C136.50 379.67 136.42 379.18 136.80 375.00 C137.18 370.82 138.05 362.62 138.50 357.90 C138.95 353.18 139.02 348.02 139.50 346.70 C139.98 345.38 140.65 349.12 141.40 350.00 C142.15 350.88 143.17 351.13 144.00 352.00 C144.83 352.87 145.73 355.75 146.40 355.20 C147.07 354.65 147.35 348.80 148.00 348.70 C148.65 348.60 149.70 352.42 150.30 354.60 C150.90 356.78 151.10 359.07 151.60 361.80 C152.10 364.53 152.68 367.67 153.30 371.00 C153.92 374.33 154.52 378.47 155.30 381.80 C156.08 385.13 157.25 387.45 158.00 391.00 C158.75 394.55 159.22 398.60 159.80 403.10 C160.38 407.60 160.98 413.40 161.50 418.00 C162.02 422.60 161.90 426.03 162.90 430.70 C163.90 435.37 166.10 441.42 167.50 446.00 C168.90 450.58 169.65 453.87 171.30 458.20 C172.95 462.53 175.62 468.70 177.40 472.00 C179.18 475.30 180.47 476.47 182.00 478.00 C183.53 479.53 184.43 480.43 186.60 481.20 C188.77 481.97 191.60 482.37 195.00 482.60 C198.40 482.83 205.00 482.60 207.00 482.60" fill="none" stroke="#2c9c93" stroke-width="1.1" stroke-linejoin="round" stroke-linecap="round"/>
<path d="M39.00 482.60 C49.17 482.60 88.17 482.67 100.00 482.60 C111.83 482.53 107.33 482.63 110.00 482.20 C112.67 481.77 114.33 480.87 116.00 480.00 C117.67 479.13 118.83 478.67 120.00 477.00 C121.17 475.33 122.17 472.50 123.00 470.00 C123.83 467.50 124.33 465.67 125.00 462.00 C125.67 458.33 126.42 452.50 127.00 448.00 C127.58 443.50 128.02 438.83 128.50 435.00 C128.98 431.17 129.48 428.83 129.90 425.00 C130.32 421.17 130.40 417.00 131.00 412.00 C131.60 407.00 132.62 400.00 133.50 395.00 C134.38 390.00 135.47 385.17 136.30 382.00 C137.13 378.83 137.82 377.83 138.50 376.00 C139.18 374.17 139.70 372.93 140.40 371.00 C141.10 369.07 141.98 367.47 142.70 364.40 C143.42 361.33 143.98 355.45 144.70 352.60 C145.42 349.75 146.33 347.57 147.00 347.30 C147.67 347.03 148.15 349.68 148.70 351.00 C149.25 352.32 149.70 356.35 150.30 355.20 C150.90 354.05 151.70 344.32 152.30 344.10 C152.90 343.88 153.30 350.73 153.90 353.90 C154.50 357.07 155.30 360.25 155.90 363.10 C156.50 365.95 156.95 367.35 157.50 371.00 C158.05 374.65 158.70 381.00 159.20 385.00 C159.70 389.00 159.88 391.98 160.50 395.00 C161.12 398.02 161.87 397.67 162.90 403.10 C163.93 408.53 165.55 421.73 166.70 427.60 C167.85 433.47 168.78 433.97 169.80 438.30 C170.82 442.63 171.53 448.48 172.80 453.60 C174.07 458.72 175.60 464.90 177.40 469.00 C179.20 473.10 181.03 475.98 183.60 478.20 C186.17 480.42 190.07 481.57 192.80 482.30 C195.53 483.03 197.47 482.55 200.00 482.60 C202.53 482.65 206.67 482.60 208.00 482.60" fill="none" stroke="#1e1e1e" stroke-width="1.1" stroke-linejoin="round" stroke-linecap="round"/>
<path d="M39.00 482.60 C49.17 482.60 88.50 482.65 100.00 482.60 C111.50 482.55 105.83 482.48 108.00 482.30 C110.17 482.12 111.50 481.97 113.00 481.50 C114.50 481.03 115.97 480.32 117.00 479.50 C118.03 478.68 118.57 478.18 119.20 476.60 C119.83 475.02 120.28 472.55 120.80 470.00 C121.32 467.45 121.80 465.47 122.30 461.30 C122.80 457.13 123.30 450.10 123.80 445.00 C124.30 439.90 124.67 435.65 125.30 430.70 C125.93 425.75 126.87 419.58 127.60 415.30 C128.33 411.02 129.05 408.38 129.70 405.00 C130.35 401.62 130.87 397.83 131.50 395.00 C132.13 392.17 132.75 390.50 133.50 388.00 C134.25 385.50 135.23 382.17 136.00 380.00 C136.77 377.83 137.52 377.50 138.10 375.00 C138.68 372.50 139.05 368.30 139.50 365.00 C139.95 361.70 140.22 356.62 140.80 355.20 C141.38 353.78 142.47 356.38 143.00 356.50 C143.53 356.62 143.60 357.87 144.00 355.90 C144.40 353.93 145.00 348.20 145.40 344.70 C145.80 341.20 146.02 336.65 146.40 334.90 C146.78 333.15 147.32 334.05 147.70 334.20 C148.08 334.35 148.27 336.18 148.70 335.80 C149.13 335.42 149.70 331.73 150.30 331.90 C150.90 332.07 151.53 337.23 152.30 336.80 C153.07 336.37 154.20 329.08 154.90 329.30 C155.60 329.52 156.07 334.43 156.50 338.10 C156.93 341.77 157.05 348.67 157.50 351.30 C157.95 353.93 158.75 351.72 159.20 353.90 C159.65 356.08 159.93 361.00 160.20 364.40 C160.47 367.80 160.43 370.75 160.80 374.30 C161.17 377.85 161.78 381.62 162.40 385.70 C163.02 389.78 163.90 394.88 164.50 398.80 C165.10 402.72 165.25 406.70 166.00 409.20 C166.75 411.70 168.30 411.17 169.00 413.80 C169.70 416.43 169.82 420.92 170.20 425.00 C170.58 429.08 170.60 433.53 171.30 438.30 C172.00 443.07 173.12 449.00 174.40 453.60 C175.68 458.20 177.22 462.07 179.00 465.90 C180.78 469.73 183.27 474.17 185.10 476.60 C186.93 479.03 188.22 479.55 190.00 480.50 C191.78 481.45 193.63 481.95 195.80 482.30 C197.97 482.65 200.63 482.55 203.00 482.60 C205.37 482.65 208.83 482.60 210.00 482.60" fill="none" stroke="#3fe63a" stroke-width="1.2" stroke-linejoin="round" stroke-linecap="round"/>
<path d="M108.00 482.60 C108.83 482.50 111.50 482.52 113.00 482.00 C114.50 481.48 115.97 480.67 117.00 479.50 C118.03 478.33 118.45 476.92 119.20 475.00 C119.95 473.08 120.87 470.50 121.50 468.00 C122.13 465.50 122.53 463.83 123.00 460.00 C123.47 456.17 123.92 450.00 124.30 445.00 C124.68 440.00 124.95 435.83 125.30 430.00 C125.65 424.17 126.00 415.20 126.40 410.00 C126.80 404.80 127.25 403.28 127.70 398.80 C128.15 394.32 128.65 388.57 129.10 383.10 C129.55 377.63 129.98 371.18 130.40 366.00 C130.82 360.82 131.17 356.00 131.60 352.00 C132.03 348.00 132.52 344.42 133.00 342.00 C133.48 339.58 134.08 338.47 134.50 337.50 C134.92 336.53 135.17 336.03 135.50 336.20 C135.83 336.37 136.17 338.02 136.50 338.50 C136.83 338.98 137.17 339.85 137.50 339.10 C137.83 338.35 138.08 335.32 138.50 334.00 C138.92 332.68 139.57 330.52 140.00 331.20 C140.43 331.88 140.70 335.30 141.10 338.10 C141.50 340.90 141.97 344.70 142.40 348.00 C142.83 351.30 143.32 354.95 143.70 357.90 C144.08 360.85 144.28 362.68 144.70 365.70 C145.12 368.72 145.72 372.62 146.20 376.00 C146.68 379.38 147.07 382.20 147.60 386.00 C148.13 389.80 148.88 395.13 149.40 398.80 C149.92 402.47 150.18 405.47 150.70 408.00 C151.22 410.53 151.87 412.00 152.50 414.00 C153.13 416.00 153.67 415.67 154.50 420.00 C155.33 424.33 156.58 434.67 157.50 440.00 C158.42 445.33 159.23 448.67 160.00 452.00 C160.77 455.33 160.98 457.68 162.10 460.00 C163.22 462.32 165.38 464.23 166.70 465.90 C168.02 467.57 168.72 468.22 170.00 470.00 C171.28 471.78 173.07 475.02 174.40 476.60 C175.73 478.18 176.47 478.60 178.00 479.50 C179.53 480.40 181.60 481.48 183.60 482.00 C185.60 482.52 188.93 482.50 190.00 482.60 Z" fill="#8f8f8f" fill-opacity="0.52" stroke="none"/>
<path d="M39.00 482.60 C49.17 482.60 88.17 482.65 100.00 482.60 C111.83 482.55 107.33 482.65 110.00 482.30 C112.67 481.95 114.33 481.38 116.00 480.50 C117.67 479.62 118.92 478.75 120.00 477.00 C121.08 475.25 121.83 472.83 122.50 470.00 C123.17 467.17 123.53 465.00 124.00 460.00 C124.47 455.00 124.90 447.50 125.30 440.00 C125.70 432.50 126.10 421.87 126.40 415.00 C126.70 408.13 126.78 405.58 127.10 398.80 C127.42 392.02 127.88 380.47 128.30 374.30 C128.72 368.13 129.05 365.63 129.60 361.80 C130.15 357.97 131.00 354.27 131.60 351.30 C132.20 348.33 132.63 346.05 133.20 344.00 C133.77 341.95 134.45 340.13 135.00 339.00 C135.55 337.87 136.08 337.12 136.50 337.20 C136.92 337.28 137.17 338.90 137.50 339.50 C137.83 340.10 138.12 340.87 138.50 340.80 C138.88 340.73 139.42 338.45 139.80 339.10 C140.18 339.75 140.47 342.12 140.80 344.70 C141.13 347.28 141.48 351.53 141.80 354.60 C142.12 357.67 142.32 360.92 142.70 363.10 C143.08 365.28 143.65 366.17 144.10 367.70 C144.55 369.23 144.92 369.92 145.40 372.30 C145.88 374.68 146.52 378.45 147.00 382.00 C147.48 385.55 147.90 390.80 148.30 393.60 C148.70 396.40 148.95 397.93 149.40 398.80 C149.85 399.67 150.53 397.32 151.00 398.80 C151.47 400.28 151.50 402.90 152.20 407.70 C152.90 412.50 154.07 421.22 155.20 427.60 C156.33 433.98 157.85 440.38 159.00 446.00 C160.15 451.62 161.07 457.98 162.10 461.30 C163.13 464.62 163.67 463.60 165.20 465.90 C166.73 468.20 169.67 473.00 171.30 475.10 C172.93 477.20 173.72 477.48 175.00 478.50 C176.28 479.52 177.17 480.52 179.00 481.20 C180.83 481.88 181.67 482.37 186.00 482.60 C190.33 482.83 201.83 482.60 205.00 482.60" fill="none" stroke="#f3ba7c" stroke-width="1.2" stroke-linejoin="round" stroke-linecap="round"/>
<path d="M108.00 482.60 C108.83 482.50 111.50 482.52 113.00 482.00 C114.50 481.48 115.97 480.67 117.00 479.50 C118.03 478.33 118.45 476.92 119.20 475.00 C119.95 473.08 120.87 470.50 121.50 468.00 C122.13 465.50 122.53 463.83 123.00 460.00 C123.47 456.17 123.92 450.00 124.30 445.00 C124.68 440.00 124.95 435.83 125.30 430.00 C125.65 424.17 126.00 415.20 126.40 410.00 C126.80 404.80 127.25 403.28 127.70 398.80 C128.15 394.32 128.65 388.57 129.10 383.10 C129.55 377.63 129.98 371.18 130.40 366.00 C130.82 360.82 131.17 356.00 131.60 352.00 C132.03 348.00 132.52 344.42 133.00 342.00 C133.48 339.58 134.08 338.47 134.50 337.50 C134.92 336.53 135.17 336.03 135.50 336.20 C135.83 336.37 136.17 338.02 136.50 338.50 C136.83 338.98 137.17 339.85 137.50 339.10 C137.83 338.35 138.08 335.32 138.50 334.00 C138.92 332.68 139.57 330.52 140.00 331.20 C140.43 331.88 140.70 335.30 141.10 338.10 C141.50 340.90 141.97 344.70 142.40 348.00 C142.83 351.30 143.32 354.95 143.70 357.90 C144.08 360.85 144.28 362.68 144.70 365.70 C145.12 368.72 145.72 372.62 146.20 376.00 C146.68 379.38 147.07 382.20 147.60 386.00 C148.13 389.80 148.88 395.13 149.40 398.80 C149.92 402.47 150.18 405.47 150.70 408.00 C151.22 410.53 151.87 412.00 152.50 414.00 C153.13 416.00 153.67 415.67 154.50 420.00 C155.33 424.33 156.58 434.67 157.50 440.00 C158.42 445.33 159.23 448.67 160.00 452.00 C160.77 455.33 160.98 457.68 162.10 460.00 C163.22 462.32 165.38 464.23 166.70 465.90 C168.02 467.57 168.72 468.22 170.00 470.00 C171.28 471.78 173.07 475.02 174.40 476.60 C175.73 478.18 176.47 478.60 178.00 479.50 C179.53 480.40 181.60 481.48 183.60 482.00 C185.60 482.52 188.93 482.50 190.00 482.60" fill="none" stroke="#8a8a8a" stroke-width="1.0" stroke-linejoin="round" stroke-linecap="round"/>
<rect x="38.3" y="311.4" width="171.89999999999998" height="171.8" fill="none" stroke="#6a6a6a" stroke-width="1"/>
<line x1="34.30" y1="482.60" x2="38.30" y2="482.60" stroke="#555" stroke-width="1" />
<line x1="36.70" y1="474.44" x2="38.30" y2="474.44" stroke="#555" stroke-width="1" />
<line x1="36.70" y1="466.27" x2="38.30" y2="466.27" stroke="#555" stroke-width="1" />
<line x1="36.70" y1="458.11" x2="38.30" y2="458.11" stroke="#555" stroke-width="1" />
<line x1="34.30" y1="449.94" x2="38.30" y2="449.94" stroke="#555" stroke-width="1" />
<line x1="36.70" y1="441.78" x2="38.30" y2="441.78" stroke="#555" stroke-width="1" />
<line x1="36.70" y1="433.61" x2="38.30" y2="433.61" stroke="#555" stroke-width="1" />
<line x1="36.70" y1="425.45" x2="38.30" y2="425.45" stroke="#555" stroke-width="1" />
<line x1="34.30" y1="417.28" x2="38.30" y2="417.28" stroke="#555" stroke-width="1" />
<line x1="36.70" y1="409.12" x2="38.30" y2="409.12" stroke="#555" stroke-width="1" />
<line x1="36.70" y1="400.95" x2="38.30" y2="400.95" stroke="#555" stroke-width="1" />
<line x1="36.70" y1="392.79" x2="38.30" y2="392.79" stroke="#555" stroke-width="1" />
<line x1="34.30" y1="384.62" x2="38.30" y2="384.62" stroke="#555" stroke-width="1" />
<line x1="36.70" y1="376.46" x2="38.30" y2="376.46" stroke="#555" stroke-width="1" />
<line x1="36.70" y1="368.29" x2="38.30" y2="368.29" stroke="#555" stroke-width="1" />
<line x1="36.70" y1="360.12" x2="38.30" y2="360.12" stroke="#555" stroke-width="1" />
<line x1="34.30" y1="351.96" x2="38.30" y2="351.96" stroke="#555" stroke-width="1" />
<line x1="36.70" y1="343.80" x2="38.30" y2="343.80" stroke="#555" stroke-width="1" />
<line x1="36.70" y1="335.63" x2="38.30" y2="335.63" stroke="#555" stroke-width="1" />
<line x1="36.70" y1="327.47" x2="38.30" y2="327.47" stroke="#555" stroke-width="1" />
<line x1="34.30" y1="319.30" x2="38.30" y2="319.30" stroke="#555" stroke-width="1" />
<text x="0" y="0" font-size="12" font-weight="bold" text-anchor="end" fill="#151515" stroke="#151515" stroke-width="0" transform="translate(30.80,488.40) scale(0.95,1)">0</text>
<text x="0" y="0" font-size="12" font-weight="bold" text-anchor="end" fill="#151515" stroke="#151515" stroke-width="0" transform="translate(30.80,455.74) scale(0.95,1)">20</text>
<text x="0" y="0" font-size="12" font-weight="bold" text-anchor="end" fill="#151515" stroke="#151515" stroke-width="0" transform="translate(30.80,423.08) scale(0.95,1)">40</text>
<text x="0" y="0" font-size="12" font-weight="bold" text-anchor="end" fill="#151515" stroke="#151515" stroke-width="0" transform="translate(30.80,390.42) scale(0.95,1)">60</text>
<text x="0" y="0" font-size="12" font-weight="bold" text-anchor="end" fill="#151515" stroke="#151515" stroke-width="0" transform="translate(30.80,357.76) scale(0.95,1)">80</text>
<text x="0" y="0" font-size="12" font-weight="bold" text-anchor="end" fill="#151515" stroke="#151515" stroke-width="0" transform="translate(30.80,325.10) scale(0.95,1)">100</text>
<line x1="93.50" y1="483.20" x2="93.50" y2="487.70" stroke="#333" stroke-width="1" />
<line x1="110.90" y1="483.20" x2="110.90" y2="485.70" stroke="#555" stroke-width="1" />
<line x1="121.08" y1="483.20" x2="121.08" y2="485.70" stroke="#555" stroke-width="1" />
<line x1="128.30" y1="483.20" x2="128.30" y2="485.70" stroke="#555" stroke-width="1" />
<line x1="133.90" y1="483.20" x2="133.90" y2="485.70" stroke="#555" stroke-width="1" />
<line x1="138.48" y1="483.20" x2="138.48" y2="485.70" stroke="#555" stroke-width="1" />
<line x1="142.35" y1="483.20" x2="142.35" y2="485.70" stroke="#555" stroke-width="1" />
<line x1="145.70" y1="483.20" x2="145.70" y2="485.70" stroke="#555" stroke-width="1" />
<line x1="148.66" y1="483.20" x2="148.66" y2="485.70" stroke="#555" stroke-width="1" />
<line x1="151.30" y1="483.20" x2="151.30" y2="487.70" stroke="#333" stroke-width="1" />
<line x1="168.70" y1="483.20" x2="168.70" y2="485.70" stroke="#555" stroke-width="1" />
<line x1="178.88" y1="483.20" x2="178.88" y2="485.70" stroke="#555" stroke-width="1" />
<line x1="186.10" y1="483.20" x2="186.10" y2="485.70" stroke="#555" stroke-width="1" />
<line x1="191.70" y1="483.20" x2="191.70" y2="485.70" stroke="#555" stroke-width="1" />
<line x1="196.28" y1="483.20" x2="196.28" y2="485.70" stroke="#555" stroke-width="1" />
<line x1="200.15" y1="483.20" x2="200.15" y2="485.70" stroke="#555" stroke-width="1" />
<line x1="203.50" y1="483.20" x2="203.50" y2="485.70" stroke="#555" stroke-width="1" />
<line x1="206.46" y1="483.20" x2="206.46" y2="485.70" stroke="#555" stroke-width="1" />
<line x1="209.10" y1="483.20" x2="209.10" y2="487.70" stroke="#333" stroke-width="1" />
<line x1="41.30" y1="483.20" x2="41.30" y2="485.70" stroke="#555" stroke-width="1" />
<line x1="63.40" y1="483.20" x2="63.40" y2="485.70" stroke="#555" stroke-width="1" />
<line x1="67.20" y1="483.20" x2="67.20" y2="485.70" stroke="#555" stroke-width="1" />
<line x1="70.20" y1="483.20" x2="70.20" y2="485.70" stroke="#555" stroke-width="1" />
<line x1="73.80" y1="483.20" x2="73.80" y2="485.70" stroke="#555" stroke-width="1" />
<line x1="78.40" y1="483.20" x2="78.40" y2="485.70" stroke="#555" stroke-width="1" />
<line x1="81.60" y1="483.20" x2="81.60" y2="485.70" stroke="#555" stroke-width="1" />
<line x1="84.30" y1="483.20" x2="84.30" y2="485.70" stroke="#555" stroke-width="1" />
<line x1="86.60" y1="483.20" x2="86.60" y2="485.70" stroke="#555" stroke-width="1" />
<line x1="88.20" y1="483.20" x2="88.20" y2="485.70" stroke="#555" stroke-width="1" />
<line x1="90.20" y1="483.20" x2="90.20" y2="485.70" stroke="#555" stroke-width="1" />
<rect x="45.9" y="483.2" width="12.700000000000003" height="2.6000000000000227" fill="#0a0a0a"/>
<rect x="45.9" y="483.2" width="1.8000000000000043" height="4.600000000000023" fill="#0a0a0a"/>
<rect x="50.9" y="483.2" width="3.1000000000000014" height="4.600000000000023" fill="#0a0a0a"/>
<rect x="57.0" y="483.2" width="1.6000000000000014" height="4.600000000000023" fill="#0a0a0a"/>
<text x="0" y="0" font-size="12.2" font-weight="bold" text-anchor="middle" fill="#151515" stroke="#151515" stroke-width="0" transform="translate(54.70,506.70) scale(1.0,1)">0</text>
<text x="0" y="0" font-size="12.2" font-weight="bold" text-anchor="start" fill="#151515" stroke="#151515" stroke-width="0" transform="translate(90.00,506.70) scale(1.0,1)">10</text>
<text x="0" y="0" font-size="12.2" font-weight="bold" text-anchor="start" fill="#151515" stroke="#151515" stroke-width="0" transform="translate(102.70,497.60) scale(1.0,1)">4</text>
<text x="0" y="0" font-size="12.2" font-weight="bold" text-anchor="start" fill="#151515" stroke="#151515" stroke-width="0" transform="translate(148.80,506.70) scale(1.0,1)">10</text>
<text x="0" y="0" font-size="12.2" font-weight="bold" text-anchor="start" fill="#151515" stroke="#151515" stroke-width="0" transform="translate(162.00,497.60) scale(1.0,1)">5</text>
<text x="0" y="0" font-size="12.2" font-weight="bold" text-anchor="start" fill="#151515" stroke="#151515" stroke-width="0" transform="translate(190.70,506.70) scale(1.0,1)">10</text>
<text x="0" y="0" font-size="12.2" font-weight="bold" text-anchor="start" fill="#151515" stroke="#151515" stroke-width="0" transform="translate(204.10,497.60) scale(1.0,1)">6</text>
<text x="44.00" y="526.00" font-size="20.5" font-weight="normal" text-anchor="start" fill="#111"  style="">IgK</text>
<line x1="81.90" y1="515.90" x2="179.00" y2="515.90" stroke="#222" stroke-width="1.6" />
<path d="M177.00 510.20 L188.00 515.90 L177.00 521.60 Z" fill="#000"/>
<text x="0" y="0" font-size="14" font-weight="bold" text-anchor="middle" fill="#000" transform="translate(11.70,390.40) rotate(-90) scale(0.93,1)">Counts (Modal)</text>
<text x="0" y="0" font-size="31" fill="#000" transform="translate(238.80,305.80) scale(0.907,1)">D</text>
<line x1="291.70" y1="313.50" x2="291.70" y2="486.00" stroke="#000" stroke-width="2" />
<line x1="285.00" y1="485.10" x2="427.20" y2="485.10" stroke="#000" stroke-width="2" />
<line x1="285.20" y1="314.50" x2="291.70" y2="314.50" stroke="#000" stroke-width="1.8" />
<text x="282.70" y="318.80" font-size="12" font-weight="bold" text-anchor="end" fill="#000"  style="">8</text>
<line x1="285.20" y1="357.15" x2="291.70" y2="357.15" stroke="#000" stroke-width="1.8" />
<text x="282.70" y="361.45" font-size="12" font-weight="bold" text-anchor="end" fill="#000"  style="">4</text>
<line x1="285.20" y1="399.80" x2="291.70" y2="399.80" stroke="#000" stroke-width="1.8" />
<text x="282.70" y="404.10" font-size="12" font-weight="bold" text-anchor="end" fill="#000"  style="">2</text>
<line x1="285.20" y1="442.45" x2="291.70" y2="442.45" stroke="#000" stroke-width="1.8" />
<text x="282.70" y="446.75" font-size="12" font-weight="bold" text-anchor="end" fill="#000"  style="">1</text>
<line x1="285.20" y1="485.10" x2="291.70" y2="485.10" stroke="#000" stroke-width="1.8" />
<text x="282.70" y="489.40" font-size="12" font-weight="bold" text-anchor="end" fill="#000"  style="">0.5</text>
<line x1="312.20" y1="485.00" x2="312.20" y2="491.20" stroke="#000" stroke-width="1.8" />
<line x1="343.40" y1="485.00" x2="343.40" y2="491.20" stroke="#000" stroke-width="1.8" />
<line x1="374.60" y1="485.00" x2="374.60" y2="491.20" stroke="#000" stroke-width="1.8" />
<line x1="405.80" y1="485.00" x2="405.80" y2="491.20" stroke="#000" stroke-width="1.8" />
<text x="0" y="0" font-size="14.1" font-weight="bold" text-anchor="middle" transform="translate(238.6,399.2) rotate(-90)">Relative intracellular</text>
<text x="0" y="0" font-size="14.1" font-weight="bold" text-anchor="middle" transform="translate(253.9,397.9) rotate(-90)">κ / λ light chain</text>
<text x="0" y="0" font-size="14.4" font-weight="bold" text-anchor="end" fill="#000" transform="translate(317.80,497.00) rotate(-45)">Ceritinib</text>
<text x="0" y="0" font-size="14.4" font-weight="bold" text-anchor="end" fill="#000" transform="translate(349.00,497.00) rotate(-45)">Entrectinib</text>
<text x="0" y="0" font-size="14.4" font-weight="bold" text-anchor="end" fill="#000" transform="translate(380.20,497.00) rotate(-45)">Alectinib</text>
<text x="0" y="0" font-size="14.4" font-weight="bold" text-anchor="end" fill="#000" transform="translate(411.40,497.00) rotate(-45)">Lorlatinib</text>
<path d="M312.30 345.60 C312.30 348.00 312.29 353.43 312.30 360.00 C312.31 366.57 312.30 379.00 312.35 385.00 C312.40 391.00 312.39 393.42 312.60 396.00 C312.81 398.58 313.17 399.00 313.60 400.50 C314.03 402.00 314.67 403.25 315.20 405.00 C315.73 406.75 316.30 408.83 316.80 411.00 C317.30 413.17 317.72 415.50 318.20 418.00 C318.68 420.50 319.23 423.33 319.70 426.00 C320.17 428.67 320.60 431.42 321.00 434.00 C321.40 436.58 321.92 440.25 322.10 441.50 L302.30 441.50 C302.48 440.25 303.00 436.58 303.40 434.00 C303.80 431.42 304.23 428.67 304.70 426.00 C305.17 423.33 305.72 420.50 306.20 418.00 C306.68 415.50 307.10 413.17 307.60 411.00 C308.10 408.83 308.67 406.75 309.20 405.00 C309.73 403.25 310.37 402.00 310.80 400.50 C311.23 399.00 311.59 398.58 311.80 396.00 C312.01 393.42 312.00 391.00 312.05 385.00 C312.10 379.00 312.09 366.57 312.10 360.00 C312.11 353.43 312.10 348.00 312.10 345.60 Z" fill="#fff" stroke="#000" stroke-width="1.8" stroke-linejoin="round"/>
<circle cx="312.20" cy="345.60" r="2.6" fill="none" stroke="#000" stroke-width="1.5"/>
<circle cx="319.90" cy="412.80" r="2.6" fill="none" stroke="#000" stroke-width="1.5"/>
<circle cx="312.20" cy="415.60" r="2.6" fill="none" stroke="#000" stroke-width="1.5"/>
<circle cx="308.10" cy="427.90" r="2.6" fill="none" stroke="#000" stroke-width="1.5"/>
<circle cx="316.00" cy="429.20" r="2.6" fill="none" stroke="#000" stroke-width="1.5"/>
<circle cx="304.00" cy="441.50" r="2.6" fill="none" stroke="#000" stroke-width="1.5"/>
<circle cx="312.20" cy="439.30" r="2.6" fill="none" stroke="#000" stroke-width="1.5"/>
<circle cx="319.60" cy="439.80" r="2.6" fill="none" stroke="#000" stroke-width="1.5"/>
<path d="M345.60 365.20 C345.57 365.50 345.57 365.87 345.40 367.00 C345.23 368.13 344.67 369.75 344.60 372.00 C344.53 374.25 345.03 377.50 345.00 380.50 C344.97 383.50 344.47 386.75 344.40 390.00 C344.33 393.25 344.47 397.33 344.60 400.00 C344.73 402.67 344.77 404.00 345.20 406.00 C345.63 408.00 346.42 409.67 347.20 412.00 C347.98 414.33 349.03 417.33 349.90 420.00 C350.77 422.67 351.75 425.83 352.40 428.00 C353.05 430.17 353.63 431.50 353.80 433.00 C353.97 434.50 353.75 435.58 353.40 437.00 C353.05 438.42 351.98 440.75 351.70 441.50 L335.10 441.50 C334.82 440.75 333.75 438.42 333.40 437.00 C333.05 435.58 332.83 434.50 333.00 433.00 C333.17 431.50 333.75 430.17 334.40 428.00 C335.05 425.83 336.03 422.67 336.90 420.00 C337.77 417.33 338.82 414.33 339.60 412.00 C340.38 409.67 341.17 408.00 341.60 406.00 C342.03 404.00 342.07 402.67 342.20 400.00 C342.33 397.33 342.47 393.25 342.40 390.00 C342.33 386.75 341.83 383.50 341.80 380.50 C341.77 377.50 342.27 374.25 342.20 372.00 C342.13 369.75 341.57 368.13 341.40 367.00 C341.23 365.87 341.23 365.50 341.20 365.20 Z" fill="#fff" stroke="#3aa866" stroke-width="1.9" stroke-linejoin="round"/>
<circle cx="343.40" cy="365.20" r="2.6" fill="none" stroke="#3aa866" stroke-width="1.5"/>
<circle cx="343.40" cy="380.50" r="2.6" fill="none" stroke="#3aa866" stroke-width="1.5"/>
<circle cx="343.40" cy="406.20" r="2.6" fill="none" stroke="#3aa866" stroke-width="1.5"/>
<circle cx="343.40" cy="427.90" r="2.6" fill="none" stroke="#3aa866" stroke-width="1.5"/>
<circle cx="336.20" cy="432.50" r="2.6" fill="none" stroke="#3aa866" stroke-width="1.5"/>
<circle cx="339.50" cy="434.90" r="2.6" fill="none" stroke="#3aa866" stroke-width="1.5"/>
<circle cx="347.30" cy="434.90" r="2.6" fill="none" stroke="#3aa866" stroke-width="1.5"/>
<circle cx="351.20" cy="433.60" r="2.6" fill="none" stroke="#3aa866" stroke-width="1.5"/>
<circle cx="343.40" cy="441.50" r="2.6" fill="none" stroke="#3aa866" stroke-width="1.5"/>
<line x1="333.90" y1="433.50" x2="352.90" y2="433.50" stroke="#222" stroke-width="1" stroke-dasharray="2.2 1.6"/>
<path d="M377.20 337.60 C377.20 338.00 377.33 338.93 377.20 340.00 C377.07 341.07 376.68 342.00 376.40 344.00 C376.12 346.00 375.72 349.00 375.50 352.00 C375.28 355.00 375.13 358.67 375.10 362.00 C375.07 365.33 374.97 368.67 375.30 372.00 C375.63 375.33 376.42 378.33 377.10 382.00 C377.78 385.67 378.62 390.00 379.40 394.00 C380.18 398.00 381.10 402.00 381.80 406.00 C382.50 410.00 383.23 414.33 383.60 418.00 C383.97 421.67 383.95 425.00 384.00 428.00 C384.05 431.00 383.95 433.48 383.90 436.00 C383.85 438.52 383.73 441.92 383.70 443.10 L365.50 443.10 C365.47 441.92 365.35 438.52 365.30 436.00 C365.25 433.48 365.15 431.00 365.20 428.00 C365.25 425.00 365.23 421.67 365.60 418.00 C365.97 414.33 366.70 410.00 367.40 406.00 C368.10 402.00 369.02 398.00 369.80 394.00 C370.58 390.00 371.42 385.67 372.10 382.00 C372.78 378.33 373.57 375.33 373.90 372.00 C374.23 368.67 374.13 365.33 374.10 362.00 C374.07 358.67 373.92 355.00 373.70 352.00 C373.48 349.00 373.08 346.00 372.80 344.00 C372.52 342.00 372.13 341.07 372.00 340.00 C371.87 338.93 372.00 338.00 372.00 337.60 Z" fill="#fff" stroke="#2f8b99" stroke-width="1.9" stroke-linejoin="round"/>
<line x1="366.60" y1="433.30" x2="382.60" y2="433.30" stroke="#222" stroke-width="1" stroke-dasharray="2.2 1.6"/>
<line x1="366.10" y1="440.50" x2="383.10" y2="440.50" stroke="#2f8b99" stroke-width="0.9" stroke-dasharray="0.9 1.6" opacity="0.8"/>
<circle cx="374.60" cy="339.60" r="2.6" fill="none" stroke="#2f8b99" stroke-width="1.5"/>
<circle cx="374.60" cy="407.90" r="2.6" fill="none" stroke="#2f8b99" stroke-width="1.5"/>
<circle cx="369.40" cy="433.00" r="2.6" fill="none" stroke="#2f8b99" stroke-width="1.5"/>
<circle cx="379.60" cy="437.40" r="2.6" fill="none" stroke="#2f8b99" stroke-width="1.5"/>
<circle cx="374.60" cy="443.10" r="2.6" fill="none" stroke="#2f8b99" stroke-width="1.5"/>
<path d="M414.20 438.90 C414.13 439.25 414.30 440.22 413.80 441.00 C413.30 441.78 412.10 442.73 411.20 443.60 C410.30 444.47 408.67 445.37 408.40 446.20 C408.13 447.03 409.10 447.80 409.60 448.60 C410.10 449.40 411.13 450.17 411.40 451.00 C411.67 451.83 411.23 453.17 411.20 453.60 L400.40 453.60 C400.37 453.17 399.93 451.83 400.20 451.00 C400.47 450.17 401.50 449.40 402.00 448.60 C402.50 447.80 403.47 447.03 403.20 446.20 C402.93 445.37 401.30 444.47 400.40 443.60 C399.50 442.73 398.30 441.78 397.80 441.00 C397.30 440.22 397.47 439.25 397.40 438.90 Z" fill="#fff" stroke="#e9b071" stroke-width="1.9" stroke-linejoin="round"/>
<line x1="398.30" y1="443.10" x2="413.30" y2="443.10" stroke="#222" stroke-width="1" stroke-dasharray="2.2 1.6"/>
<circle cx="397.90" cy="441.00" r="2.6" fill="none" stroke="#e9b071" stroke-width="1.5"/>
<circle cx="414.10" cy="439.30" r="2.6" fill="none" stroke="#e9b071" stroke-width="1.5"/>
<circle cx="403.10" cy="452.40" r="2.6" fill="none" stroke="#e9b071" stroke-width="1.5"/>
<circle cx="409.20" cy="451.50" r="2.6" fill="none" stroke="#e9b071" stroke-width="1.5"/>
<line x1="312.20" y1="311.60" x2="405.80" y2="311.60" stroke="#000" stroke-width="1.9" />
<path d="M359.00 302.60 L359.00 309.00 M356.23 304.20 L361.77 307.40 M356.23 307.40 L361.77 304.20" stroke="#111" stroke-width="1.45" fill="none"/>
<circle cx="359.00" cy="305.80" r="1.1" fill="#111"/>
<line x1="343.40" y1="322.50" x2="405.80" y2="322.50" stroke="#000" stroke-width="1.9" />
<path d="M370.55 313.50 L370.55 319.90 M367.78 315.10 L373.32 318.30 M367.78 318.30 L373.32 315.10" stroke="#111" stroke-width="1.45" fill="none"/>
<circle cx="370.55" cy="316.70" r="1.1" fill="#111"/>
<path d="M378.65 313.50 L378.65 319.90 M375.88 315.10 L381.42 318.30 M375.88 318.30 L381.42 315.10" stroke="#111" stroke-width="1.45" fill="none"/>
<circle cx="378.65" cy="316.70" r="1.1" fill="#111"/>
<line x1="374.60" y1="333.50" x2="405.80" y2="333.50" stroke="#000" stroke-width="1.9" />
<path d="M390.20 324.30 L390.20 330.70 M387.43 325.90 L392.97 329.10 M387.43 329.10 L392.97 325.90" stroke="#111" stroke-width="1.45" fill="none"/>
<circle cx="390.20" cy="327.50" r="1.1" fill="#111"/>
<text x="0" y="0" font-size="31" fill="#000" transform="translate(460.20,302.80) scale(0.713,1)">E</text>
<line x1="510.50" y1="314.20" x2="510.50" y2="488.80" stroke="#000" stroke-width="2" />
<line x1="509.50" y1="487.80" x2="683.80" y2="487.80" stroke="#000" stroke-width="2" />
<line x1="503.40" y1="315.10" x2="510.50" y2="315.10" stroke="#000" stroke-width="1.8" />
<text x="501.20" y="319.50" font-size="12.3" font-weight="bold" text-anchor="end" fill="#000"  style="">1.5</text>
<line x1="503.40" y1="372.70" x2="510.50" y2="372.70" stroke="#000" stroke-width="1.8" />
<text x="501.20" y="377.10" font-size="12.3" font-weight="bold" text-anchor="end" fill="#000"  style="">1.0</text>
<line x1="503.40" y1="430.30" x2="510.50" y2="430.30" stroke="#000" stroke-width="1.8" />
<text x="501.20" y="434.70" font-size="12.3" font-weight="bold" text-anchor="end" fill="#000"  style="">0.5</text>
<line x1="503.40" y1="487.90" x2="510.50" y2="487.90" stroke="#000" stroke-width="1.8" />
<text x="501.20" y="492.30" font-size="12.3" font-weight="bold" text-anchor="end" fill="#000"  style="">0.0</text>
<line x1="536.80" y1="487.80" x2="536.80" y2="494.90" stroke="#000" stroke-width="1.8" />
<line x1="576.70" y1="487.80" x2="576.70" y2="494.90" stroke="#000" stroke-width="1.8" />
<line x1="616.40" y1="487.80" x2="616.40" y2="494.90" stroke="#000" stroke-width="1.8" />
<line x1="656.10" y1="487.80" x2="656.10" y2="494.90" stroke="#000" stroke-width="1.8" />
<text x="0" y="0" font-size="14.1" font-weight="bold" text-anchor="middle" transform="translate(472.6,402.2) rotate(-90)">Relative secreted IgG</text>
<text x="0" y="0" font-size="13.3" font-weight="bold" text-anchor="end" fill="#000" transform="translate(541.70,507.00) rotate(-45)">Control</text>
<text x="0" y="0" font-size="13.3" font-weight="bold" text-anchor="end" fill="#000" transform="translate(581.60,507.00) rotate(-45)">Ceritinib</text>
<text x="0" y="0" font-size="13.3" font-weight="bold" text-anchor="end" fill="#000" transform="translate(621.30,507.00) rotate(-45)">Entrectinib</text>
<text x="0" y="0" font-size="13.3" font-weight="bold" text-anchor="end" fill="#000" transform="translate(661.00,507.00) rotate(-45)">Alectinib</text>
<line x1="526.6" y1="373.0" x2="547.4" y2="373.0" stroke="#9b9b9e" stroke-width="6.2" stroke-linecap="round"/>
<path d="M584.20 368.00 C584.15 368.50 584.02 369.35 583.90 371.00 C583.78 372.65 583.45 375.43 583.50 377.90 C583.55 380.37 583.78 382.90 584.20 385.80 C584.62 388.70 585.30 392.38 586.00 395.30 C586.70 398.22 587.75 400.92 588.40 403.30 C589.05 405.68 590.12 407.75 589.90 409.60 C589.68 411.45 588.40 412.28 587.10 414.40 C585.80 416.52 583.50 419.65 582.10 422.30 C580.70 424.95 579.47 427.92 578.70 430.30 C577.93 432.68 577.50 434.23 577.50 436.60 C577.50 438.97 578.23 441.60 578.70 444.50 C579.17 447.40 580.17 450.55 580.30 454.00 C580.43 457.45 579.57 461.48 579.50 465.20 C579.43 468.92 579.80 473.30 579.90 476.30 C580.00 479.30 580.07 482.05 580.10 483.20 L573.30 483.20 C573.33 482.05 573.40 479.30 573.50 476.30 C573.60 473.30 573.97 468.92 573.90 465.20 C573.83 461.48 572.97 457.45 573.10 454.00 C573.23 450.55 574.23 447.40 574.70 444.50 C575.17 441.60 575.90 438.97 575.90 436.60 C575.90 434.23 575.47 432.68 574.70 430.30 C573.93 427.92 572.70 424.95 571.30 422.30 C569.90 419.65 567.60 416.52 566.30 414.40 C565.00 412.28 563.72 411.45 563.50 409.60 C563.28 407.75 564.35 405.68 565.00 403.30 C565.65 400.92 566.70 398.22 567.40 395.30 C568.10 392.38 568.78 388.70 569.20 385.80 C569.62 382.90 569.85 380.37 569.90 377.90 C569.95 375.43 569.62 372.65 569.50 371.00 C569.38 369.35 569.25 368.50 569.20 368.00 Z" fill="#fff" stroke="#000" stroke-width="1.9" stroke-linejoin="round"/>
<line x1="564.50" y1="406.50" x2="588.90" y2="406.50" stroke="#222" stroke-width="1" stroke-dasharray="2.2 1.6"/>
<line x1="566.50" y1="414.20" x2="586.90" y2="414.20" stroke="#222" stroke-width="0.9" stroke-dasharray="0.9 1.6" opacity="0.8"/>
<line x1="569.70" y1="372.50" x2="583.70" y2="372.50" stroke="#222" stroke-width="0.9" stroke-dasharray="0.9 1.6" opacity="0.8"/>
<circle cx="571.50" cy="370.40" r="2.6" fill="none" stroke="#000" stroke-width="1.5"/>
<circle cx="582.30" cy="367.50" r="2.6" fill="none" stroke="#000" stroke-width="1.5"/>
<circle cx="576.70" cy="378.30" r="2.6" fill="none" stroke="#000" stroke-width="1.5"/>
<circle cx="571.50" cy="395.00" r="2.6" fill="none" stroke="#000" stroke-width="1.5"/>
<circle cx="582.30" cy="393.80" r="2.6" fill="none" stroke="#000" stroke-width="1.5"/>
<circle cx="576.70" cy="406.50" r="2.6" fill="none" stroke="#000" stroke-width="1.5"/>
<circle cx="566.00" cy="408.70" r="2.6" fill="none" stroke="#000" stroke-width="1.5"/>
<circle cx="587.80" cy="411.10" r="2.6" fill="none" stroke="#000" stroke-width="1.5"/>
<circle cx="576.70" cy="414.20" r="2.6" fill="none" stroke="#000" stroke-width="1.5"/>
<circle cx="576.70" cy="454.40" r="2.6" fill="none" stroke="#000" stroke-width="1.5"/>
<circle cx="576.70" cy="480.30" r="2.6" fill="none" stroke="#000" stroke-width="1.5"/>
<path d="M626.20 377.30 C626.37 377.58 626.82 377.70 627.20 379.00 C627.58 380.30 628.38 381.57 628.50 385.10 C628.62 388.63 628.20 395.17 627.90 400.20 C627.60 405.23 627.22 411.50 626.70 415.30 C626.18 419.10 625.42 420.48 624.80 423.00 C624.18 425.52 623.48 427.40 623.00 430.40 C622.52 433.40 621.83 438.07 621.90 441.00 C621.97 443.93 622.82 445.73 623.40 448.00 C623.98 450.27 625.20 452.60 625.40 454.60 C625.60 456.60 625.10 457.98 624.60 460.00 C624.10 462.02 623.17 464.08 622.40 466.70 C621.63 469.32 620.60 473.18 620.00 475.70 C619.40 478.22 619.00 480.78 618.80 481.80 L614.00 481.80 C613.80 480.78 613.40 478.22 612.80 475.70 C612.20 473.18 611.17 469.32 610.40 466.70 C609.63 464.08 608.70 462.02 608.20 460.00 C607.70 457.98 607.20 456.60 607.40 454.60 C607.60 452.60 608.82 450.27 609.40 448.00 C609.98 445.73 610.83 443.93 610.90 441.00 C610.97 438.07 610.28 433.40 609.80 430.40 C609.32 427.40 608.62 425.52 608.00 423.00 C607.38 420.48 606.62 419.10 606.10 415.30 C605.58 411.50 605.20 405.23 604.90 400.20 C604.60 395.17 604.18 388.63 604.30 385.10 C604.42 381.57 605.22 380.30 605.60 379.00 C605.98 377.70 606.43 377.58 606.60 377.30 Z" fill="#fff" stroke="#59d08a" stroke-width="1.9" stroke-linejoin="round"/>
<line x1="605.90" y1="414.80" x2="626.90" y2="414.80" stroke="#222" stroke-width="1" stroke-dasharray="2.2 1.6"/>
<line x1="604.90" y1="390.20" x2="627.90" y2="390.20" stroke="#59d08a" stroke-width="0.9" stroke-dasharray="0.9 1.6" opacity="0.8"/>
<line x1="607.90" y1="455.30" x2="624.90" y2="455.30" stroke="#59d08a" stroke-width="0.9" stroke-dasharray="0.9 1.6" opacity="0.8"/>
<circle cx="616.40" cy="377.50" r="2.6" fill="none" stroke="#59d08a" stroke-width="1.5"/>
<circle cx="611.30" cy="382.50" r="2.6" fill="none" stroke="#59d08a" stroke-width="1.5"/>
<circle cx="622.00" cy="385.90" r="2.6" fill="none" stroke="#59d08a" stroke-width="1.5"/>
<circle cx="611.30" cy="395.00" r="2.6" fill="none" stroke="#59d08a" stroke-width="1.5"/>
<circle cx="622.00" cy="393.80" r="2.6" fill="none" stroke="#59d08a" stroke-width="1.5"/>
<circle cx="605.80" cy="414.60" r="2.6" fill="none" stroke="#59d08a" stroke-width="1.5"/>
<circle cx="616.40" cy="411.70" r="2.6" fill="none" stroke="#59d08a" stroke-width="1.5"/>
<circle cx="616.40" cy="417.70" r="2.6" fill="none" stroke="#59d08a" stroke-width="1.5"/>
<circle cx="616.40" cy="432.80" r="2.6" fill="none" stroke="#59d08a" stroke-width="1.5"/>
<circle cx="616.40" cy="455.30" r="2.6" fill="none" stroke="#59d08a" stroke-width="1.5"/>
<circle cx="627.30" cy="454.80" r="2.6" fill="none" stroke="#59d08a" stroke-width="1.5"/>
<circle cx="616.40" cy="460.80" r="2.6" fill="none" stroke="#59d08a" stroke-width="1.5"/>
<circle cx="616.40" cy="480.70" r="2.6" fill="none" stroke="#59d08a" stroke-width="1.5"/>
<path d="M668.00 374.80 C667.85 376.28 667.50 380.75 667.10 383.70 C666.70 386.65 666.48 389.57 665.60 392.50 C664.72 395.43 662.68 398.65 661.80 401.30 C660.92 403.95 660.22 406.05 660.30 408.40 C660.38 410.75 661.60 413.05 662.30 415.40 C663.00 417.75 664.13 420.65 664.50 422.50 C664.87 424.35 664.68 425.40 664.50 426.50 C664.32 427.60 663.58 428.67 663.40 429.10 L648.80 429.10 C648.62 428.67 647.88 427.60 647.70 426.50 C647.52 425.40 647.33 424.35 647.70 422.50 C648.07 420.65 649.20 417.75 649.90 415.40 C650.60 413.05 651.82 410.75 651.90 408.40 C651.98 406.05 651.28 403.95 650.40 401.30 C649.52 398.65 647.48 395.43 646.60 392.50 C645.72 389.57 645.50 386.65 645.10 383.70 C644.70 380.75 644.35 376.28 644.20 374.80 Z" fill="#fff" stroke="#2f8797" stroke-width="1.9" stroke-linejoin="round"/>
<line x1="647.50" y1="393.30" x2="664.70" y2="393.30" stroke="#222" stroke-width="1" stroke-dasharray="2.2 1.6"/>
<circle cx="645.50" cy="375.30" r="2.6" fill="none" stroke="#2f8797" stroke-width="1.5"/>
<circle cx="667.10" cy="374.40" r="2.6" fill="none" stroke="#2f8797" stroke-width="1.5"/>
<circle cx="652.60" cy="379.70" r="2.6" fill="none" stroke="#2f8797" stroke-width="1.5"/>
<circle cx="659.60" cy="379.70" r="2.6" fill="none" stroke="#2f8797" stroke-width="1.5"/>
<circle cx="645.50" cy="391.20" r="2.6" fill="none" stroke="#2f8797" stroke-width="1.5"/>
<circle cx="652.60" cy="395.60" r="2.6" fill="none" stroke="#2f8797" stroke-width="1.5"/>
<circle cx="659.60" cy="392.90" r="2.6" fill="none" stroke="#2f8797" stroke-width="1.5"/>
<circle cx="656.10" cy="407.50" r="2.6" fill="none" stroke="#2f8797" stroke-width="1.5"/>
<circle cx="652.60" cy="421.60" r="2.6" fill="none" stroke="#2f8797" stroke-width="1.5"/>
<circle cx="659.60" cy="422.50" r="2.6" fill="none" stroke="#2f8797" stroke-width="1.5"/>
<circle cx="656.10" cy="429.10" r="2.6" fill="none" stroke="#2f8797" stroke-width="1.5"/>
<line x1="536.80" y1="327.80" x2="656.10" y2="327.80" stroke="#000" stroke-width="1.9" />
<path d="M592.30 318.70 L592.30 325.10 M589.53 320.30 L595.07 323.50 M589.53 323.50 L595.07 320.30" stroke="#111" stroke-width="1.45" fill="none"/>
<circle cx="592.30" cy="321.90" r="1.1" fill="#111"/>
<path d="M600.60 318.70 L600.60 325.10 M597.83 320.30 L603.37 323.50 M597.83 323.50 L603.37 320.30" stroke="#111" stroke-width="1.45" fill="none"/>
<circle cx="600.60" cy="321.90" r="1.1" fill="#111"/>
<line x1="536.80" y1="345.80" x2="616.40" y2="345.80" stroke="#000" stroke-width="1.9" />
<path d="M568.30 336.70 L568.30 343.10 M565.53 338.30 L571.07 341.50 M565.53 341.50 L571.07 338.30" stroke="#111" stroke-width="1.45" fill="none"/>
<circle cx="568.30" cy="339.90" r="1.1" fill="#111"/>
<path d="M576.60 336.70 L576.60 343.10 M573.83 338.30 L579.37 341.50 M573.83 341.50 L579.37 338.30" stroke="#111" stroke-width="1.45" fill="none"/>
<circle cx="576.60" cy="339.90" r="1.1" fill="#111"/>
<path d="M584.90 336.70 L584.90 343.10 M582.13 338.30 L587.67 341.50 M582.13 341.50 L587.67 338.30" stroke="#111" stroke-width="1.45" fill="none"/>
<circle cx="584.90" cy="339.90" r="1.1" fill="#111"/>
<line x1="536.80" y1="360.20" x2="576.70" y2="360.20" stroke="#000" stroke-width="1.9" />
<path d="M556.75 350.80 L556.75 357.20 M553.98 352.40 L559.52 355.60 M553.98 355.60 L559.52 352.40" stroke="#111" stroke-width="1.45" fill="none"/>
<circle cx="556.75" cy="354.00" r="1.1" fill="#111"/>
<text x="0" y="0" font-size="31" fill="#000" transform="translate(24.30,573.90) scale(0.788,1)">F</text>
<line x1="81.80" y1="593.60" x2="81.80" y2="748.60" stroke="#000" stroke-width="1.4" />
<line x1="81.20" y1="748.00" x2="311.60" y2="748.00" stroke="#000" stroke-width="1.4" />
<line x1="75.90" y1="748.00" x2="81.80" y2="748.00" stroke="#000" stroke-width="1.3" />
<text x="73.90" y="752.00" font-size="10.8" font-weight="bold" text-anchor="end" fill="#000"  style="">0</text>
<line x1="75.90" y1="709.55" x2="81.80" y2="709.55" stroke="#000" stroke-width="1.3" />
<text x="73.90" y="713.55" font-size="10.8" font-weight="bold" text-anchor="end" fill="#000"  style="">1</text>
<line x1="75.90" y1="671.10" x2="81.80" y2="671.10" stroke="#000" stroke-width="1.3" />
<text x="73.90" y="675.10" font-size="10.8" font-weight="bold" text-anchor="end" fill="#000"  style="">2</text>
<line x1="75.90" y1="632.65" x2="81.80" y2="632.65" stroke="#000" stroke-width="1.3" />
<text x="73.90" y="636.65" font-size="10.8" font-weight="bold" text-anchor="end" fill="#000"  style="">3</text>
<line x1="75.90" y1="594.20" x2="81.80" y2="594.20" stroke="#000" stroke-width="1.3" />
<text x="73.90" y="598.20" font-size="10.8" font-weight="bold" text-anchor="end" fill="#000"  style="">4</text>
<line x1="81.90" y1="748.00" x2="81.90" y2="753.60" stroke="#000" stroke-width="1.3" />
<text x="81.90" y="767.40" font-size="10.8" font-weight="bold" text-anchor="middle" fill="#000"  style="">0</text>
<line x1="158.20" y1="748.00" x2="158.20" y2="753.60" stroke="#000" stroke-width="1.3" />
<text x="158.20" y="767.40" font-size="10.8" font-weight="bold" text-anchor="middle" fill="#000"  style="">2</text>
<line x1="234.50" y1="748.00" x2="234.50" y2="753.60" stroke="#000" stroke-width="1.3" />
<text x="234.50" y="767.40" font-size="10.8" font-weight="bold" text-anchor="middle" fill="#000"  style="">4</text>
<line x1="310.80" y1="748.00" x2="310.80" y2="753.60" stroke="#000" stroke-width="1.3" />
<text x="310.80" y="767.40" font-size="10.8" font-weight="bold" text-anchor="middle" fill="#000"  style="">6</text>
<text x="0" y="0" font-size="13.0" font-weight="bold" text-anchor="middle" transform="translate(58.6,670.9) rotate(-90)">Entrectinib</text>
<text x="196.40" y="786.00" font-size="12.4" font-weight="bold" text-anchor="middle" fill="#000"  style="">Ceritinib</text>
<line x1="124.20" y1="699.30" x2="265.30" y2="620.80" stroke="#000" stroke-width="0.9" />
<circle cx="121.5" cy="643.9" r="2.75" fill="#000"/>
<circle cx="140.1" cy="679.8" r="2.75" fill="#000"/>
<circle cx="143.4" cy="694.2" r="2.75" fill="#000"/>
<circle cx="120.9" cy="699.3" r="2.75" fill="#000"/>
<circle cx="119.8" cy="703.6" r="2.75" fill="#000"/>
<circle cx="123.1" cy="705.2" r="2.75" fill="#000"/>
<circle cx="126.3" cy="704.1" r="2.75" fill="#000"/>
<circle cx="129.6" cy="704.5" r="2.75" fill="#000"/>
<circle cx="132.9" cy="706.3" r="2.75" fill="#000"/>
<circle cx="143.4" cy="709.1" r="2.75" fill="#000"/>
<circle cx="265.3" cy="615.4" r="2.75" fill="#000"/>
<circle cx="121.5" cy="706" r="2.75" fill="#000"/>
<text x="214.1" y="714.4" font-size="12.9" fill="#000"><tspan font-style="italic">P</tspan> = .0029</text>
<text x="0" y="0" font-size="31" fill="#000" transform="translate(417.30,573.90) scale(0.905,1)">G</text>
<line x1="442.00" y1="597.60" x2="442.00" y2="753.10" stroke="#000" stroke-width="1.4" />
<line x1="441.40" y1="752.40" x2="674.10" y2="752.40" stroke="#000" stroke-width="1.4" />
<line x1="435.60" y1="598.11" x2="442.00" y2="598.11" stroke="#000" stroke-width="1.3" />
<text x="434.00" y="602.21" font-size="11.2" font-weight="bold" text-anchor="end" fill="#000"  style="">1.5</text>
<line x1="435.60" y1="649.57" x2="442.00" y2="649.57" stroke="#000" stroke-width="1.3" />
<text x="434.00" y="653.67" font-size="11.2" font-weight="bold" text-anchor="end" fill="#000"  style="">1.0</text>
<line x1="435.60" y1="701.03" x2="442.00" y2="701.03" stroke="#000" stroke-width="1.3" />
<text x="434.00" y="705.13" font-size="11.2" font-weight="bold" text-anchor="end" fill="#000"  style="">0.5</text>
<line x1="435.60" y1="752.50" x2="442.00" y2="752.50" stroke="#000" stroke-width="1.3" />
<text x="434.00" y="756.60" font-size="11.2" font-weight="bold" text-anchor="end" fill="#000"  style="">0.0</text>
<line x1="442.00" y1="752.40" x2="442.00" y2="758.80" stroke="#000" stroke-width="1.3" />
<text x="442.50" y="772.60" font-size="11.2" font-weight="bold" text-anchor="middle" fill="#000"  style="">0.0</text>
<line x1="519.24" y1="752.40" x2="519.24" y2="758.80" stroke="#000" stroke-width="1.3" />
<text x="519.74" y="772.60" font-size="11.2" font-weight="bold" text-anchor="middle" fill="#000"  style="">0.5</text>
<line x1="596.47" y1="752.40" x2="596.47" y2="758.80" stroke="#000" stroke-width="1.3" />
<text x="596.97" y="772.60" font-size="11.2" font-weight="bold" text-anchor="middle" fill="#000"  style="">1.0</text>
<line x1="673.70" y1="752.40" x2="673.70" y2="758.80" stroke="#000" stroke-width="1.3" />
<text x="674.20" y="772.60" font-size="11.2" font-weight="bold" text-anchor="middle" fill="#000"  style="">1.5</text>
<text x="0" y="0" font-size="12.6" font-weight="bold" text-anchor="middle" transform="translate(409.8,675.0) rotate(-90)">Entrectinib</text>
<text x="557.60" y="791.50" font-size="12.6" font-weight="bold" text-anchor="middle" fill="#000"  style="">Ceritinib</text>
<line x1="451.20" y1="734.30" x2="604.70" y2="662.40" stroke="#000" stroke-width="0.9" />
<circle cx="544.7" cy="658.5" r="2.85" fill="#000"/>
<circle cx="575.3" cy="646.6" r="2.85" fill="#000"/>
<circle cx="565.4" cy="661.2" r="2.85" fill="#000"/>
<circle cx="568.0" cy="670.0" r="2.85" fill="#000"/>
<circle cx="575.0" cy="674.2" r="2.85" fill="#000"/>
<circle cx="584.9" cy="669.1" r="2.85" fill="#000"/>
<circle cx="589.0" cy="668.7" r="2.85" fill="#000"/>
<circle cx="589.6" cy="653.4" r="2.85" fill="#000"/>
<circle cx="599.3" cy="653.8" r="2.85" fill="#000"/>
<circle cx="601.9" cy="655.5" r="2.85" fill="#000"/>
<circle cx="602.5" cy="645.8" r="2.85" fill="#000"/>
<circle cx="602.7" cy="673.8" r="2.85" fill="#000"/>
<circle cx="604.9" cy="685.0" r="2.85" fill="#000"/>
<circle cx="541.0" cy="687.3" r="2.85" fill="#000"/>
<circle cx="547.6" cy="689.7" r="2.85" fill="#000"/>
<circle cx="550.7" cy="723.6" r="2.85" fill="#000"/>
<circle cx="602.5" cy="728.4" r="2.85" fill="#000"/>
<circle cx="486.7" cy="723.4" r="2.85" fill="#000"/>
<circle cx="451.2" cy="746.2" r="2.85" fill="#000"/>
<text x="610.0" y="718.5" font-size="13.2" fill="#000"><tspan font-style="italic">P</tspan> = .0029</text>
</svg>
</body></html>
